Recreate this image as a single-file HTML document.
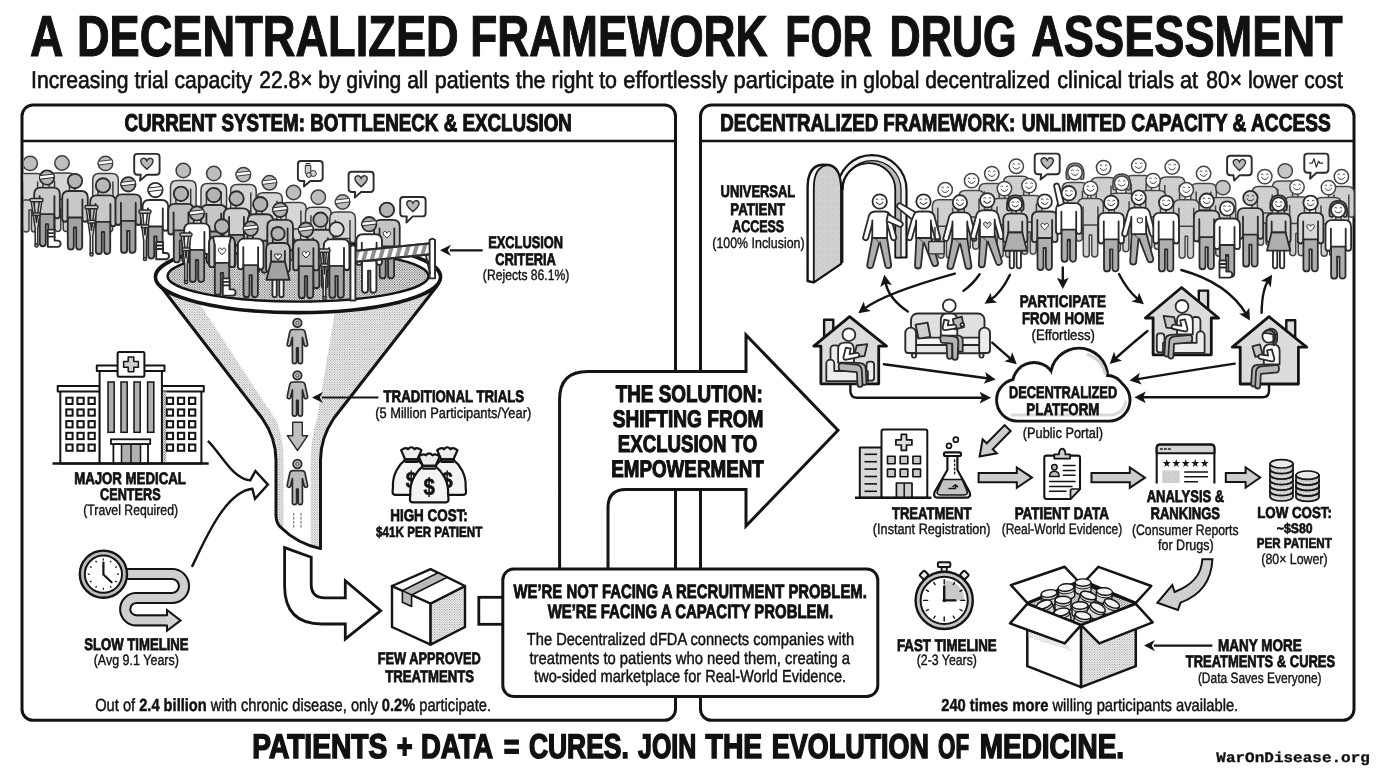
<!DOCTYPE html>
<html lang="en"><head><meta charset="utf-8"><title>A Decentralized Framework for Drug Assessment</title>
<style>
html,body{margin:0;padding:0;background:#fff;}
body{width:1376px;height:768px;overflow:hidden;font-family:"Liberation Sans",sans-serif;}
svg{display:block;will-change:transform;}
text{font-family:"Liberation Sans",sans-serif;text-rendering:geometricPrecision;}
.b{font-weight:700}
.r{font-weight:400}
.m{font-family:"Liberation Mono",monospace;font-weight:700}
</style></head><body>
<svg width="1376" height="768" viewBox="0 0 1376 768">
<defs>
<pattern id="dots" width="2.5" height="2.5" patternUnits="userSpaceOnUse"><rect width="2.5" height="2.5" fill="#fbfbfb"/><circle cx="0.7" cy="0.7" r="0.6" fill="#4a4a4a"/><circle cx="1.95" cy="1.95" r="0.6" fill="#4a4a4a"/></pattern>
<pattern id="dots2" width="2.5" height="2.5" patternUnits="userSpaceOnUse"><rect width="2.5" height="2.5" fill="#fff"/><circle cx="0.7" cy="0.7" r="0.56" fill="#6a6a6a"/><circle cx="1.95" cy="1.95" r="0.56" fill="#6a6a6a"/></pattern>
<pattern id="dotsl" width="2.6" height="2.6" patternUnits="userSpaceOnUse"><rect width="2.6" height="2.6" fill="#fff"/><circle cx="0.7" cy="0.7" r="0.5" fill="#777"/><circle cx="2" cy="2" r="0.5" fill="#777"/></pattern>
<pattern id="stip" width="2.4" height="2.4" patternUnits="userSpaceOnUse"><rect width="2.4" height="2.4" fill="#dcdcdc"/><circle cx="0.6" cy="0.6" r="0.45" fill="#9a9a9a"/><circle cx="1.8" cy="1.8" r="0.45" fill="#9a9a9a"/></pattern>
</defs>
<rect width="1376" height="768" fill="#fff"/>
<g fill="none" stroke="#141414" stroke-width="3">
<rect x="22" y="105" width="653.5" height="615.3" rx="11"/>
<line x1="22" y1="141" x2="675.5" y2="141" stroke-width="2.6"/>
<rect x="700.5" y="105" width="653.5" height="615.3" rx="11"/>
<line x1="700.5" y1="141" x2="1354" y2="141" stroke-width="2.6"/>
</g>
<clipPath id="coneclip"><path d="M160.5,286 L262,418 Q276,438 276,460 V515 Q276,523.5 281,527.5 Q297,543.5 320.5,548.6 V460 Q320.5,438 334,418 L437,286 Q300,330 160.5,286 Z"/></clipPath>
<path d="M160.5,286 L262,418 Q276,438 276,460 V515 Q276,523.5 281,527.5 Q297,543.5 320.5,548.6 V460 Q320.5,438 334,418 L437,286 Q300,330 160.5,286 Z" fill="#fff"/>
<g clip-path="url(#coneclip)"><path d="M150,280 L262,418 Q276,438 276,460 V535 H283.6 V460 Q283.6,440 277,422 L192,292 Z" fill="url(#dots2)"/><path d="M445,280 L334,418 Q320.5,438 320.5,460 V552 H310.5 V462 Q310.5,440 317,418 L337,300 Z" fill="url(#dots2)"/></g>
<path d="M160.5,286 L262,418 Q276,438 276,460 V515 Q276,523.5 281,527.5 Q297,543.5 320.5,548.6 V460 Q320.5,438 334,418 L437,286 Q300,330 160.5,286 Z" fill="none" stroke="#141414" stroke-width="3" stroke-linejoin="round"/>
<ellipse cx="298" cy="277" rx="142.6" ry="35.6" fill="#fff" stroke="#141414" stroke-width="3.6"/>
<ellipse cx="298" cy="276" rx="130.5" ry="25.6" fill="url(#dots)" stroke="#141414" stroke-width="2.4"/>
<clipPath id="lpclip"><rect x="23.5" y="142.3" width="650" height="575"/></clipPath><g clip-path="url(#lpclip)">
<g transform="translate(30.2,163.4) scale(1)" stroke="#3c3c3c" stroke-width="1.5" stroke-linejoin="round" stroke-linecap="round"><path d="M-7.2,34 H7.2 V65.6 a3,3 0 0 1 -6,0 V46.5 h-2.4 V65.6 a3,3 0 0 1 -6,0 Z" fill="#cfcfcf"/><path d="M-12.8,38 V16.6 Q-12.8,10 -6.2,10 H6.2 Q12.8,10 12.8,16.6 V38 a2.7,2.7 0 0 1 -5.4,0 V36.5 H-7.4 V38 a2.7,2.7 0 0 1 -5.4,0 Z" fill="#d6d6d6"/><path d="M-7.4,18.5 V36.5 M7.4,18.5 V36.5" fill="none"/><circle cx="0" cy="0" r="7.2" fill="#bebebe"/></g>
<g transform="translate(62,163) scale(1)" stroke="#3c3c3c" stroke-width="1.5" stroke-linejoin="round" stroke-linecap="round"><path d="M-7.2,34 H7.2 V65.6 a3,3 0 0 1 -6,0 V46.5 h-2.4 V65.6 a3,3 0 0 1 -6,0 Z" fill="#cfcfcf"/><path d="M-12.8,38 V16.6 Q-12.8,10 -6.2,10 H6.2 Q12.8,10 12.8,16.6 V38 a2.7,2.7 0 0 1 -5.4,0 V36.5 H-7.4 V38 a2.7,2.7 0 0 1 -5.4,0 Z" fill="#d6d6d6"/><path d="M-7.4,18.5 V36.5 M7.4,18.5 V36.5" fill="none"/><circle cx="0" cy="0" r="7.2" fill="#bebebe"/></g>
<g transform="translate(105.5,163.4) scale(1)" stroke="#3c3c3c" stroke-width="1.5" stroke-linejoin="round" stroke-linecap="round"><path d="M-7.2,34 H7.2 V65.6 a3,3 0 0 1 -6,0 V46.5 h-2.4 V65.6 a3,3 0 0 1 -6,0 Z" fill="#cfcfcf"/><path d="M-12.8,38 V16.6 Q-12.8,10 -6.2,10 H6.2 Q12.8,10 12.8,16.6 V38 a2.7,2.7 0 0 1 -5.4,0 V36.5 H-7.4 V38 a2.7,2.7 0 0 1 -5.4,0 Z" fill="#d6d6d6"/><path d="M-7.4,18.5 V36.5 M7.4,18.5 V36.5" fill="none"/><circle cx="0" cy="0" r="7.2" fill="#bebebe"/><path d="M-6.9,-2.0 L6.6,-3.6 L7.2,-0.2 L-7.1,1.6 Z" fill="#fff" stroke-width="1"/></g>
<g transform="translate(183.3,170.5) scale(1)" stroke="#3c3c3c" stroke-width="1.5" stroke-linejoin="round" stroke-linecap="round"><path d="M-7.2,34 H7.2 V65.6 a3,3 0 0 1 -6,0 V46.5 h-2.4 V65.6 a3,3 0 0 1 -6,0 Z" fill="#cfcfcf"/><path d="M-12.8,38 V16.6 Q-12.8,10 -6.2,10 H6.2 Q12.8,10 12.8,16.6 V38 a2.7,2.7 0 0 1 -5.4,0 V36.5 H-7.4 V38 a2.7,2.7 0 0 1 -5.4,0 Z" fill="#d6d6d6"/><path d="M-7.4,18.5 V36.5 M7.4,18.5 V36.5" fill="none"/><circle cx="0" cy="0" r="7.2" fill="#bebebe"/></g>
<g transform="translate(213.8,173.5) scale(1)" stroke="#3c3c3c" stroke-width="1.5" stroke-linejoin="round" stroke-linecap="round"><path d="M-7.2,34 H7.2 V65.6 a3,3 0 0 1 -6,0 V46.5 h-2.4 V65.6 a3,3 0 0 1 -6,0 Z" fill="#cfcfcf"/><path d="M-12.8,38 V16.6 Q-12.8,10 -6.2,10 H6.2 Q12.8,10 12.8,16.6 V38 a2.7,2.7 0 0 1 -5.4,0 V36.5 H-7.4 V38 a2.7,2.7 0 0 1 -5.4,0 Z" fill="#d6d6d6"/><path d="M-7.4,18.5 V36.5 M7.4,18.5 V36.5" fill="none"/><circle cx="0" cy="0" r="7.2" fill="#bebebe"/></g>
<g transform="translate(243.4,174.6) scale(1)" stroke="#3c3c3c" stroke-width="1.5" stroke-linejoin="round" stroke-linecap="round"><path d="M-7.2,34 H7.2 V65.6 a3,3 0 0 1 -6,0 V46.5 h-2.4 V65.6 a3,3 0 0 1 -6,0 Z" fill="#cfcfcf"/><path d="M-12.8,38 V16.6 Q-12.8,10 -6.2,10 H6.2 Q12.8,10 12.8,16.6 V38 a2.7,2.7 0 0 1 -5.4,0 V36.5 H-7.4 V38 a2.7,2.7 0 0 1 -5.4,0 Z" fill="#d6d6d6"/><path d="M-7.4,18.5 V36.5 M7.4,18.5 V36.5" fill="none"/><circle cx="0" cy="0" r="7.2" fill="#bebebe"/><path d="M-6.9,-2.0 L6.6,-3.6 L7.2,-0.2 L-7.1,1.6 Z" fill="#fff" stroke-width="1"/></g>
<g transform="translate(269.5,182.8) scale(1)" stroke="#3c3c3c" stroke-width="1.5" stroke-linejoin="round" stroke-linecap="round"><path d="M-7.2,34 H7.2 V65.6 a3,3 0 0 1 -6,0 V46.5 h-2.4 V65.6 a3,3 0 0 1 -6,0 Z" fill="#cfcfcf"/><path d="M-12.8,38 V16.6 Q-12.8,10 -6.2,10 H6.2 Q12.8,10 12.8,16.6 V38 a2.7,2.7 0 0 1 -5.4,0 V36.5 H-7.4 V38 a2.7,2.7 0 0 1 -5.4,0 Z" fill="#d6d6d6"/><path d="M-7.4,18.5 V36.5 M7.4,18.5 V36.5" fill="none"/><circle cx="0" cy="0" r="7.2" fill="#bebebe"/><path d="M-6.9,-2.0 L6.6,-3.6 L7.2,-0.2 L-7.1,1.6 Z" fill="#fff" stroke-width="1"/></g>
<g transform="translate(293.5,192.5) scale(1)" stroke="#3c3c3c" stroke-width="1.5" stroke-linejoin="round" stroke-linecap="round"><path d="M-7.2,34 H7.2 V65.6 a3,3 0 0 1 -6,0 V46.5 h-2.4 V65.6 a3,3 0 0 1 -6,0 Z" fill="#cfcfcf"/><path d="M-12.8,38 V16.6 Q-12.8,10 -6.2,10 H6.2 Q12.8,10 12.8,16.6 V38 a2.7,2.7 0 0 1 -5.4,0 V36.5 H-7.4 V38 a2.7,2.7 0 0 1 -5.4,0 Z" fill="#d6d6d6"/><path d="M-7.4,18.5 V36.5 M7.4,18.5 V36.5" fill="none"/><circle cx="0" cy="0" r="7.2" fill="#bebebe"/></g>
<g transform="translate(318.3,197.2) scale(1)" stroke="#3c3c3c" stroke-width="1.5" stroke-linejoin="round" stroke-linecap="round"><path d="M-7.2,34 H7.2 V65.6 a3,3 0 0 1 -6,0 V46.5 h-2.4 V65.6 a3,3 0 0 1 -6,0 Z" fill="#cfcfcf"/><path d="M-12.8,38 V16.6 Q-12.8,10 -6.2,10 H6.2 Q12.8,10 12.8,16.6 V38 a2.7,2.7 0 0 1 -5.4,0 V36.5 H-7.4 V38 a2.7,2.7 0 0 1 -5.4,0 Z" fill="#d6d6d6"/><path d="M-7.4,18.5 V36.5 M7.4,18.5 V36.5" fill="none"/><circle cx="0" cy="0" r="7.2" fill="#bebebe"/></g>
<g transform="translate(342.6,202) scale(1)" stroke="#3c3c3c" stroke-width="1.5" stroke-linejoin="round" stroke-linecap="round"><path d="M-7.2,34 H7.2 V65.6 a3,3 0 0 1 -6,0 V46.5 h-2.4 V65.6 a3,3 0 0 1 -6,0 Z" fill="#cfcfcf"/><path d="M-12.8,38 V16.6 Q-12.8,10 -6.2,10 H6.2 Q12.8,10 12.8,16.6 V38 a2.7,2.7 0 0 1 -5.4,0 V36.5 H-7.4 V38 a2.7,2.7 0 0 1 -5.4,0 Z" fill="#d6d6d6"/><path d="M-7.4,18.5 V36.5 M7.4,18.5 V36.5" fill="none"/><circle cx="0" cy="0" r="7.2" fill="#bebebe"/><path d="M-6.9,-2.0 L6.6,-3.6 L7.2,-0.2 L-7.1,1.6 Z" fill="#fff" stroke-width="1"/></g>
<g transform="translate(47,177.6) scale(1)" stroke="#2b2b2b" stroke-width="1.85" stroke-linejoin="round" stroke-linecap="round"><path d="M-7.2,34 H7.2 V65.6 a3,3 0 0 1 -6,0 V46.5 h-2.4 V65.6 a3,3 0 0 1 -6,0 Z" fill="#a3a3a3"/><path d="M0.8,52 h6.8 v11 h3.6 a3.2,3.2 0 0 1 0,6.2 h-10.4 z" fill="#fff"/><path d="M0.8,55.5 h6.8 M0.8,59 h6.8" fill="none"/><path d="M-12.8,38 V16.6 Q-12.8,10 -6.2,10 H6.2 Q12.8,10 12.8,16.6 V38 a2.7,2.7 0 0 1 -5.4,0 V36.5 H-7.4 V38 a2.7,2.7 0 0 1 -5.4,0 Z" fill="#c9c9c9"/><path d="M-7.4,18.5 V36.5 M7.4,18.5 V36.5" fill="none"/><circle cx="0" cy="0" r="7.2" fill="#b4b4b4"/><path d="M-6.9,-2.0 L6.6,-3.6 L7.2,-0.2 L-7.1,1.6 Z" fill="#fff" stroke-width="1"/></g>
<g transform="translate(75,181) scale(1)" stroke="#2b2b2b" stroke-width="1.85" stroke-linejoin="round" stroke-linecap="round"><path d="M-7.2,34 H7.2 V65.6 a3,3 0 0 1 -6,0 V46.5 h-2.4 V65.6 a3,3 0 0 1 -6,0 Z" fill="#a3a3a3"/><path d="M-12.8,38 V16.6 Q-12.8,10 -6.2,10 H6.2 Q12.8,10 12.8,16.6 V38 a2.7,2.7 0 0 1 -5.4,0 V36.5 H-7.4 V38 a2.7,2.7 0 0 1 -5.4,0 Z" fill="#c9c9c9"/><path d="M-7.4,18.5 V36.5 M7.4,18.5 V36.5" fill="none"/><circle cx="0" cy="0" r="7.2" fill="#b4b4b4"/></g>
<g transform="translate(103,185.4) scale(1)" stroke="#2b2b2b" stroke-width="1.85" stroke-linejoin="round" stroke-linecap="round"><path d="M-7.2,34 H7.2 V65.6 a3,3 0 0 1 -6,0 V46.5 h-2.4 V65.6 a3,3 0 0 1 -6,0 Z" fill="#a3a3a3"/><path d="M-12.8,38 V16.6 Q-12.8,10 -6.2,10 H6.2 Q12.8,10 12.8,16.6 V38 a2.7,2.7 0 0 1 -5.4,0 V36.5 H-7.4 V38 a2.7,2.7 0 0 1 -5.4,0 Z" fill="#c9c9c9"/><path d="M-7.4,18.5 V36.5 M7.4,18.5 V36.5" fill="none"/><circle cx="0" cy="0" r="7.2" fill="#b9b9b9"/></g>
<g transform="translate(128.3,184.3) scale(1)" stroke="#2b2b2b" stroke-width="1.85" stroke-linejoin="round" stroke-linecap="round"><path d="M-7.2,34 H7.2 V65.6 a3,3 0 0 1 -6,0 V46.5 h-2.4 V65.6 a3,3 0 0 1 -6,0 Z" fill="#a3a3a3"/><path d="M-12.8,38 V16.6 Q-12.8,10 -6.2,10 H6.2 Q12.8,10 12.8,16.6 V38 a2.7,2.7 0 0 1 -5.4,0 V36.5 H-7.4 V38 a2.7,2.7 0 0 1 -5.4,0 Z" fill="#b5b5b5"/><path d="M-7.4,18.5 V36.5 M7.4,18.5 V36.5" fill="none"/><circle cx="0" cy="0" r="7.2" fill="#b4b4b4"/><path d="M-6.9,-2.0 L6.6,-3.6 L7.2,-0.2 L-7.1,1.6 Z" fill="#fff" stroke-width="1"/></g>
<g transform="translate(155.4,190) scale(1)" stroke="#2b2b2b" stroke-width="1.85" stroke-linejoin="round" stroke-linecap="round"><path d="M-7.2,34 H7.2 V65.6 a3,3 0 0 1 -6,0 V46.5 h-2.4 V65.6 a3,3 0 0 1 -6,0 Z" fill="#a3a3a3"/><path d="M0.8,52 h6.8 v11 h3.6 a3.2,3.2 0 0 1 0,6.2 h-10.4 z" fill="#fff"/><path d="M0.8,55.5 h6.8 M0.8,59 h6.8" fill="none"/><path d="M-12.8,38 V16.6 Q-12.8,10 -6.2,10 H6.2 Q12.8,10 12.8,16.6 V38 a2.7,2.7 0 0 1 -5.4,0 V36.5 H-7.4 V38 a2.7,2.7 0 0 1 -5.4,0 Z" fill="#fff"/><path d="M-7.4,18.5 V36.5 M7.4,18.5 V36.5" fill="none"/><circle cx="0" cy="0" r="7.2" fill="#fff"/><path d="M-6.9,-2.0 L6.6,-3.6 L7.2,-0.2 L-7.1,1.6 Z" fill="#fff" stroke-width="1"/></g>
<g transform="translate(181,193.8) scale(1)" stroke="#2b2b2b" stroke-width="1.85" stroke-linejoin="round" stroke-linecap="round"><path d="M-7.2,34 H7.2 V65.6 a3,3 0 0 1 -6,0 V46.5 h-2.4 V65.6 a3,3 0 0 1 -6,0 Z" fill="#a3a3a3"/><path d="M-12.8,38 V16.6 Q-12.8,10 -6.2,10 H6.2 Q12.8,10 12.8,16.6 V38 a2.7,2.7 0 0 1 -5.4,0 V36.5 H-7.4 V38 a2.7,2.7 0 0 1 -5.4,0 Z" fill="#bdbdbd"/><path d="M-7.4,18.5 V36.5 M7.4,18.5 V36.5" fill="none"/><circle cx="0" cy="0" r="7.2" fill="#b4b4b4"/></g>
<g transform="translate(213.8,195) scale(1)" stroke="#2b2b2b" stroke-width="1.85" stroke-linejoin="round" stroke-linecap="round"><path d="M-7.2,34 H7.2 V65.6 a3,3 0 0 1 -6,0 V46.5 h-2.4 V65.6 a3,3 0 0 1 -6,0 Z" fill="#a3a3a3"/><path d="M-12.8,38 V16.6 Q-12.8,10 -6.2,10 H6.2 Q12.8,10 12.8,16.6 V38 a2.7,2.7 0 0 1 -5.4,0 V36.5 H-7.4 V38 a2.7,2.7 0 0 1 -5.4,0 Z" fill="#c6c6c6"/><path d="M-7.4,18.5 V36.5 M7.4,18.5 V36.5" fill="none"/><circle cx="0" cy="0" r="7.2" fill="#b4b4b4"/></g>
<g transform="translate(236.5,198.4) scale(1)" stroke="#2b2b2b" stroke-width="1.85" stroke-linejoin="round" stroke-linecap="round"><path d="M-7.2,34 H7.2 V65.6 a3,3 0 0 1 -6,0 V46.5 h-2.4 V65.6 a3,3 0 0 1 -6,0 Z" fill="#a3a3a3"/><path d="M-12.8,38 V16.6 Q-12.8,10 -6.2,10 H6.2 Q12.8,10 12.8,16.6 V38 a2.7,2.7 0 0 1 -5.4,0 V36.5 H-7.4 V38 a2.7,2.7 0 0 1 -5.4,0 Z" fill="#cfcfcf"/><path d="M-7.4,18.5 V36.5 M7.4,18.5 V36.5" fill="none"/><circle cx="0" cy="0" r="7.2" fill="#b4b4b4"/></g>
<g transform="translate(260.3,204.2) scale(1)" stroke="#2b2b2b" stroke-width="1.85" stroke-linejoin="round" stroke-linecap="round"><path d="M-7.2,34 H7.2 V65.6 a3,3 0 0 1 -6,0 V46.5 h-2.4 V65.6 a3,3 0 0 1 -6,0 Z" fill="#a3a3a3"/><path d="M-12.8,38 V16.6 Q-12.8,10 -6.2,10 H6.2 Q12.8,10 12.8,16.6 V38 a2.7,2.7 0 0 1 -5.4,0 V36.5 H-7.4 V38 a2.7,2.7 0 0 1 -5.4,0 Z" fill="#c9c9c9"/><path d="M-7.4,18.5 V36.5 M7.4,18.5 V36.5" fill="none"/><circle cx="0" cy="0" r="7.2" fill="#b4b4b4"/></g>
<g transform="translate(280.2,209.8) scale(1)" stroke="#2b2b2b" stroke-width="1.85" stroke-linejoin="round" stroke-linecap="round"><path d="M-7.2,34 H7.2 V65.6 a3,3 0 0 1 -6,0 V46.5 h-2.4 V65.6 a3,3 0 0 1 -6,0 Z" fill="#a3a3a3"/><path d="M-12.8,38 V16.6 Q-12.8,10 -6.2,10 H6.2 Q12.8,10 12.8,16.6 V38 a2.7,2.7 0 0 1 -5.4,0 V36.5 H-7.4 V38 a2.7,2.7 0 0 1 -5.4,0 Z" fill="#c2c2c2"/><path d="M-7.4,18.5 V36.5 M7.4,18.5 V36.5" fill="none"/><circle cx="0" cy="0" r="7.2" fill="#b4b4b4"/><path d="M-6.9,-2.0 L6.6,-3.6 L7.2,-0.2 L-7.1,1.6 Z" fill="#fff" stroke-width="1"/></g>
<g transform="translate(320.5,219.7) scale(1)" stroke="#2b2b2b" stroke-width="1.85" stroke-linejoin="round" stroke-linecap="round"><path d="M-7.2,34 H7.2 V65.6 a3,3 0 0 1 -6,0 V46.5 h-2.4 V65.6 a3,3 0 0 1 -6,0 Z" fill="#a3a3a3"/><path d="M-12.8,38 V16.6 Q-12.8,10 -6.2,10 H6.2 Q12.8,10 12.8,16.6 V38 a2.7,2.7 0 0 1 -5.4,0 V36.5 H-7.4 V38 a2.7,2.7 0 0 1 -5.4,0 Z" fill="#c9c9c9"/><path d="M-7.4,18.5 V36.5 M7.4,18.5 V36.5" fill="none"/><circle cx="0" cy="0" r="7.2" fill="#b4b4b4"/></g>
<g transform="translate(386.9,209.8) scale(1)" stroke="#2b2b2b" stroke-width="1.85" stroke-linejoin="round" stroke-linecap="round"><path d="M-7.2,34 H7.2 V65.6 a3,3 0 0 1 -6,0 V46.5 h-2.4 V65.6 a3,3 0 0 1 -6,0 Z" fill="#a3a3a3"/><path d="M-12.8,38 V16.6 Q-12.8,10 -6.2,10 H6.2 Q12.8,10 12.8,16.6 V38 a2.7,2.7 0 0 1 -5.4,0 V36.5 H-7.4 V38 a2.7,2.7 0 0 1 -5.4,0 Z" fill="#c4c4c4"/><path d="M-7.4,18.5 V36.5 M7.4,18.5 V36.5" fill="none"/><path d="M0,23.2 c-1.2,-2.6 -4.4,-1.6 -3.6,1 c0.5,1.6 2.4,2.8 3.6,4 c1.2,-1.2 3.1,-2.4 3.6,-4 c0.8,-2.6 -2.4,-3.6 -3.6,-1z" fill="#fff" stroke-width="1"/><circle cx="0" cy="0" r="7.2" fill="#b4b4b4"/></g>
</g>
<g stroke="#2b2b2b" stroke-width="1.5" fill="#d9d9d9" stroke-linejoin="round"><path d="M31.2,201.5 L35.2,228.26 V244.5 h2.6 V228.26 L41.8,201.5 h-2.4 L36.5,222.5 L33.6,201.5 Z" fill="#e4e4e4"/><rect x="30" y="198.5" width="13" height="3.2" rx="1.4" fill="#cfcfcf"/><path d="M32.9,212.9 h7.2 v2.4 h-7.2z" fill="#fff"/><circle cx="36.5" cy="245.5" r="1.6" fill="#bbb"/></g>
<g stroke="#2b2b2b" stroke-width="1.5" fill="#d9d9d9" stroke-linejoin="round"><path d="M86.2,208.5 L90.2,236.5 V253.5 h2.6 V236.5 L96.8,208.5 h-2.4 L91.5,230.5 L88.6,208.5 Z" fill="#e4e4e4"/><rect x="85" y="205.5" width="13" height="3.2" rx="1.4" fill="#cfcfcf"/><path d="M87.9,220.5 h7.2 v2.4 h-7.2z" fill="#fff"/><circle cx="91.5" cy="254.5" r="1.6" fill="#bbb"/></g>
<g stroke="#2b2b2b" stroke-width="1.5" fill="#d9d9d9" stroke-linejoin="round"><path d="M140.2,213 L143.7,241 V258 h2.6 V241 L149.8,213 h-2.4 L145,235 L142.6,213 Z" fill="#e4e4e4"/><rect x="139" y="210" width="12" height="3.2" rx="1.4" fill="#cfcfcf"/><path d="M141.4,225 h7.2 v2.4 h-7.2z" fill="#fff"/><circle cx="145" cy="259" r="1.6" fill="#bbb"/></g>
<g transform="translate(197,213.4) scale(1)" stroke="#2b2b2b" stroke-width="1.85" stroke-linejoin="round" stroke-linecap="round"><path d="M-7.2,34 H7.2 V65.6 a3,3 0 0 1 -6,0 V46.5 h-2.4 V65.6 a3,3 0 0 1 -6,0 Z" fill="#a3a3a3"/><path d="M-12.8,38 V16.6 Q-12.8,10 -6.2,10 H6.2 Q12.8,10 12.8,16.6 V38 a2.7,2.7 0 0 1 -5.4,0 V36.5 H-7.4 V38 a2.7,2.7 0 0 1 -5.4,0 Z" fill="#fff"/><path d="M-7.4,18.5 V36.5 M7.4,18.5 V36.5" fill="none"/><circle cx="0" cy="0" r="7.2" fill="#b4b4b4"/><path d="M-6.9,-2.0 L6.6,-3.6 L7.2,-0.2 L-7.1,1.6 Z" fill="#fff" stroke-width="1"/></g>
<g transform="translate(222,226.4) scale(1)" stroke="#2b2b2b" stroke-width="1.85" stroke-linejoin="round" stroke-linecap="round"><path d="M-7.2,34 H7.2 V65.6 a3,3 0 0 1 -6,0 V46.5 h-2.4 V65.6 a3,3 0 0 1 -6,0 Z" fill="#a3a3a3"/><path d="M0.8,52 h6.8 v11 h3.6 a3.2,3.2 0 0 1 0,6.2 h-10.4 z" fill="#fff"/><path d="M0.8,55.5 h6.8 M0.8,59 h6.8" fill="none"/><path d="M-12.8,38 V16.6 Q-12.8,10 -6.2,10 H6.2 Q12.8,10 12.8,16.6 V38 a2.7,2.7 0 0 1 -5.4,0 V36.5 H-7.4 V38 a2.7,2.7 0 0 1 -5.4,0 Z" fill="#fff"/><path d="M-12.8,38 V16.6 Q-12.8,11.5 -9,10.4 L-7.4,18 V38 a2.7,2.7 0 0 1 -5.4,0 Z M12.8,38 V16.6 Q12.8,11.5 9,10.4 L7.4,18 V38 a2.7,2.7 0 0 0 5.4,0 Z" fill="#c9c9c9"/><path d="M-7.4,18.5 V36.5 M7.4,18.5 V36.5" fill="none"/><path d="M0,23.2 c-1.2,-2.6 -4.4,-1.6 -3.6,1 c0.5,1.6 2.4,2.8 3.6,4 c1.2,-1.2 3.1,-2.4 3.6,-4 c0.8,-2.6 -2.4,-3.6 -3.6,-1z" fill="#fff" stroke-width="1"/><circle cx="0" cy="0" r="7.2" fill="#b4b4b4"/></g>
<g transform="translate(250.7,228.6) scale(1)" stroke="#2b2b2b" stroke-width="1.85" stroke-linejoin="round" stroke-linecap="round"><path d="M-7.2,34 H7.2 V65.6 a3,3 0 0 1 -6,0 V46.5 h-2.4 V65.6 a3,3 0 0 1 -6,0 Z" fill="#a3a3a3"/><path d="M-12.8,38 V16.6 Q-12.8,10 -6.2,10 H6.2 Q12.8,10 12.8,16.6 V38 a2.7,2.7 0 0 1 -5.4,0 V36.5 H-7.4 V38 a2.7,2.7 0 0 1 -5.4,0 Z" fill="#fff"/><path d="M-7.4,18.5 V36.5 M7.4,18.5 V36.5" fill="none"/><circle cx="0" cy="0" r="7.2" fill="#b4b4b4"/><path d="M-6.9,-2.0 L6.6,-3.6 L7.2,-0.2 L-7.1,1.6 Z" fill="#fff" stroke-width="1"/></g>
<g transform="translate(278,233.7) scale(0.93)" stroke="#2b2b2b" stroke-width="1.99" stroke-linejoin="round" stroke-linecap="round"><path d="M-6,48 V66 a2.3,2.3 0 0 0 4.6,0 V48 M1.4,48 V66 a2.3,2.3 0 0 0 4.6,0 V48" fill="#fff"/><path d="M-12.8,38 V16.6 Q-12.8,10 -6.2,10 H6.2 Q12.8,10 12.8,16.6 V38 a2.7,2.7 0 0 1 -5.4,0 V36.5 H-7.4 V38 a2.7,2.7 0 0 1 -5.4,0 Z" fill="#c4c4c4"/><path d="M-7.4,18.5 V36.5 M7.4,18.5 V36.5" fill="none"/><path d="M-7.4,30 L-12.4,49.5 H12.4 L7.4,30 Z" fill="#a3a3a3"/><path d="M-7.4,30 H7.4" fill="none"/><path d="M0,23.2 c-1.2,-2.6 -4.4,-1.6 -3.6,1 c0.5,1.6 2.4,2.8 3.6,4 c1.2,-1.2 3.1,-2.4 3.6,-4 c0.8,-2.6 -2.4,-3.6 -3.6,-1z" fill="#fff" stroke-width="1.08"/><circle cx="0" cy="0" r="7.2" fill="#b4b4b4"/></g>
<g transform="translate(306,229.7) scale(1)" stroke="#2b2b2b" stroke-width="1.85" stroke-linejoin="round" stroke-linecap="round"><path d="M-7.2,34 H7.2 V65.6 a3,3 0 0 1 -6,0 V46.5 h-2.4 V65.6 a3,3 0 0 1 -6,0 Z" fill="#a3a3a3"/><path d="M-12.8,38 V16.6 Q-12.8,10 -6.2,10 H6.2 Q12.8,10 12.8,16.6 V38 a2.7,2.7 0 0 1 -5.4,0 V36.5 H-7.4 V38 a2.7,2.7 0 0 1 -5.4,0 Z" fill="#bdbdbd"/><path d="M-7.4,18.5 V36.5 M7.4,18.5 V36.5" fill="none"/><path d="M0,23.2 c-1.2,-2.6 -4.4,-1.6 -3.6,1 c0.5,1.6 2.4,2.8 3.6,4 c1.2,-1.2 3.1,-2.4 3.6,-4 c0.8,-2.6 -2.4,-3.6 -3.6,-1z" fill="#fff" stroke-width="1"/><circle cx="0" cy="0" r="7.2" fill="#b4b4b4"/><path d="M-6.9,-2.0 L6.6,-3.6 L7.2,-0.2 L-7.1,1.6 Z" fill="#fff" stroke-width="1"/></g>
<g transform="translate(336.6,229.3) scale(1)" stroke="#2b2b2b" stroke-width="1.85" stroke-linejoin="round" stroke-linecap="round"><path d="M-7.2,34 H7.2 V65.6 a3,3 0 0 1 -6,0 V46.5 h-2.4 V65.6 a3,3 0 0 1 -6,0 Z" fill="#a3a3a3"/><path d="M-12.8,38 V16.6 Q-12.8,10 -6.2,10 H6.2 Q12.8,10 12.8,16.6 V38 a2.7,2.7 0 0 1 -5.4,0 V36.5 H-7.4 V38 a2.7,2.7 0 0 1 -5.4,0 Z" fill="#fff"/><path d="M-7.4,18.5 V36.5 M7.4,18.5 V36.5" fill="none"/><circle cx="0" cy="0" r="7.2" fill="#dcdcdc"/></g>
<g transform="translate(369.2,224.2) scale(1)" stroke="#2b2b2b" stroke-width="1.85" stroke-linejoin="round" stroke-linecap="round"><path d="M-7.2,34 H7.2 V65.6 a3,3 0 0 1 -6,0 V46.5 h-2.4 V65.6 a3,3 0 0 1 -6,0 Z" fill="#fff"/><path d="M-12.8,38 V16.6 Q-12.8,10 -6.2,10 H6.2 Q12.8,10 12.8,16.6 V38 a2.7,2.7 0 0 1 -5.4,0 V36.5 H-7.4 V38 a2.7,2.7 0 0 1 -5.4,0 Z" fill="#fff"/><path d="M-7.4,18.5 V36.5 M7.4,18.5 V36.5" fill="none"/><circle cx="0" cy="0" r="7.2" fill="#b4b4b4"/><path d="M-6.9,-2.0 L6.6,-3.6 L7.2,-0.2 L-7.1,1.6 Z" fill="#fff" stroke-width="1"/></g>
<g stroke="#2b2b2b" stroke-width="1.5" fill="#d9d9d9" stroke-linejoin="round"><path d="M181.2,236 L184.7,264 V281 h2.6 V264 L190.8,236 h-2.4 L186,258 L183.6,236 Z" fill="#e4e4e4"/><rect x="180" y="233" width="12" height="3.2" rx="1.4" fill="#cfcfcf"/><path d="M182.4,248 h7.2 v2.4 h-7.2z" fill="#fff"/><circle cx="186" cy="282" r="1.6" fill="#bbb"/></g>
<g stroke="#2b2b2b" stroke-width="1.5" fill="#d9d9d9" stroke-linejoin="round"><path d="M320.2,252 L323.2,280 V297 h2.6 V280 L328.8,252 h-2.4 L324.5,274 L322.6,252 Z" fill="#e4e4e4"/><rect x="319" y="249" width="11" height="3.2" rx="1.4" fill="#cfcfcf"/><path d="M320.9,264 h7.2 v2.4 h-7.2z" fill="#fff"/><circle cx="324.5" cy="298" r="1.6" fill="#bbb"/></g>
<g stroke="#2b2b2b" stroke-width="1.9" stroke-linejoin="round"><clipPath id="barclip"><path d="M354,251 L431,243.2 V254.2 L354,262 Z"/></clipPath><path d="M354,251 L431,243.2 V254.2 L354,262 Z" fill="#fff"/><g clip-path="url(#barclip)" stroke="none" fill="#8f8f8f"><path d="M352,264 l7,-24 h4.1 l-7,24z"/><path d="M360.2,264 l7,-24 h4.1 l-7,24z"/><path d="M368.4,264 l7,-24 h4.1 l-7,24z"/><path d="M376.6,264 l7,-24 h4.1 l-7,24z"/><path d="M384.8,264 l7,-24 h4.1 l-7,24z"/><path d="M393,264 l7,-24 h4.1 l-7,24z"/><path d="M401.2,264 l7,-24 h4.1 l-7,24z"/><path d="M409.4,264 l7,-24 h4.1 l-7,24z"/><path d="M417.6,264 l7,-24 h4.1 l-7,24z"/><path d="M425.8,264 l7,-24 h4.1 l-7,24z"/><path d="M434,264 l7,-24 h4.1 l-7,24z"/></g><path d="M354,251 L431,243.2 V254.2 L354,262 Z" fill="none"/><path d="M350.4,246.5 q2.5,-2.4 5,0 V300.5 h-5 Z" fill="#fff"/><path d="M429.6,240 q2.7,-2.6 5.4,0 V278.4 h-5.4 Z" fill="#fff"/><path d="M426,256 l4.2,18" fill="none"/></g>
<path d="M137.4,153.9 H156.4 Q159.6,153.9 159.6,157.1 V171.5 Q159.6,174.7 156.4,174.7 H146.79 L140,180.6 L140.79,174.7 H137.4 Q134.2,174.7 134.2,171.5 V157.1 Q134.2,153.9 137.4,153.9 Z" fill="#fff" stroke="#2b2b2b" stroke-width="1.9" stroke-linejoin="round"/>
<path transform="translate(146.9,164) scale(1.55)" d="M0,-2.2 c-1.2,-2.6 -4.6,-1.6 -3.8,1.2 c0.6,1.9 2.6,3.2 3.8,4.4 c1.2,-1.2 3.2,-2.5 3.8,-4.4 c0.8,-2.8 -2.6,-3.8 -3.8,-1.2z" fill="#b9b9b9" stroke="#2b2b2b" stroke-width="0.9"/>
<path d="M301.1,161 H319.5 Q322.7,161 322.7,164.2 V177.8 Q322.7,181 319.5,181 H310.36 L303.9,186.5 L304.36,181 H301.1 Q297.9,181 297.9,177.8 V164.2 Q297.9,161 301.1,161 Z" fill="#fff" stroke="#2b2b2b" stroke-width="1.9" stroke-linejoin="round"/>
<g stroke="#2b2b2b" stroke-width="1" fill="#cfcfcf"><rect x="305.3" y="165" width="5.5" height="9" rx="1"/><rect x="306.3" y="163.5" width="3.5" height="2"/><circle cx="313.3" cy="173.5" r="3"/><circle cx="308.8" cy="175" r="2.4"/></g>
<path d="M351.8,171.7 H370.4 Q373.6,171.7 373.6,174.9 V188.8 Q373.6,192 370.4,192 H361.1 L354.8,197.6 L355.1,192 H351.8 Q348.6,192 348.6,188.8 V174.9 Q348.6,171.7 351.8,171.7 Z" fill="#fff" stroke="#2b2b2b" stroke-width="1.9" stroke-linejoin="round"/>
<path transform="translate(361.1,181.55) scale(1.55)" d="M0,-2.2 c-1.2,-2.6 -4.6,-1.6 -3.8,1.2 c0.6,1.9 2.6,3.2 3.8,4.4 c1.2,-1.2 3.2,-2.5 3.8,-4.4 c0.8,-2.8 -2.6,-3.8 -3.8,-1.2z" fill="#b9b9b9" stroke="#2b2b2b" stroke-width="0.9"/>
<path d="M403.4,197 H422.4 Q425.6,197 425.6,200.2 V213.2 Q425.6,216.4 422.4,216.4 H412.79 L406.4,222.6 L406.79,216.4 H403.4 Q400.2,216.4 400.2,213.2 V200.2 Q400.2,197 403.4,197 Z" fill="#fff" stroke="#2b2b2b" stroke-width="1.9" stroke-linejoin="round"/>
<path transform="translate(412.9,206.4) scale(1.55)" d="M0,-2.2 c-1.2,-2.6 -4.6,-1.6 -3.8,1.2 c0.6,1.9 2.6,3.2 3.8,4.4 c1.2,-1.2 3.2,-2.5 3.8,-4.4 c0.8,-2.8 -2.6,-3.8 -3.8,-1.2z" fill="#b9b9b9" stroke="#2b2b2b" stroke-width="0.9"/>
<path d="M482.6,250.3 L449.8,250.3" stroke="#141414" stroke-width="2.2" fill="none"/>
<path d="M440,250.3 L451,244.7 L447.8,250.3 L451,255.9 Z" fill="#141414"/>
<path d="M378.4,397.5 L321.8,397.5" stroke="#141414" stroke-width="2.2" fill="none"/>
<path d="M312,397.5 L323,391.9 L319.8,397.5 L323,403.1 Z" fill="#141414"/>
<g transform="translate(297.4,322.9)" stroke="#2b2b2b" stroke-width="1.7" stroke-linejoin="round" fill="#bcbcbc"><path d="M-4.6,6.6 Q-7,6.6 -7.6,9 L-10.2,21.3 a1.7,1.7 0 0 0 3.3,0.8 L-5,14.5 V38.6 a2.1,2.1 0 0 0 4.2,0 V25 h1.6 V38.6 a2.1,2.1 0 0 0 4.2,0 V14.5 L6.9,22.1 a1.7,1.7 0 0 0 3.3,-0.8 L7.6,9 Q7,6.6 4.6,6.6 Z"/><circle cx="0" cy="0" r="4.3"/><circle cx="0" cy="0" r="1.6" fill="#d0d0d0" stroke-width="0.8"/></g>
<g transform="translate(297.4,375.4)" stroke="#2b2b2b" stroke-width="1.7" stroke-linejoin="round" fill="#bcbcbc"><path d="M-4.6,6.6 Q-7,6.6 -7.6,9 L-10.2,21.3 a1.7,1.7 0 0 0 3.3,0.8 L-5,14.5 V38.6 a2.1,2.1 0 0 0 4.2,0 V25 h1.6 V38.6 a2.1,2.1 0 0 0 4.2,0 V14.5 L6.9,22.1 a1.7,1.7 0 0 0 3.3,-0.8 L7.6,9 Q7,6.6 4.6,6.6 Z"/><circle cx="0" cy="0" r="4.3"/><circle cx="0" cy="0" r="1.6" fill="#d0d0d0" stroke-width="0.8"/></g>
<path d="M292.7,422.2 h9.6 v13.5 h5.4 L297.5,450.5 L287.3,435.7 h5.4z" fill="#c0c0c0" stroke="#2b2b2b" stroke-width="1.4" stroke-linejoin="round"/>
<g transform="translate(297.4,464)" stroke="#2b2b2b" stroke-width="1.7" stroke-linejoin="round" fill="#bcbcbc"><path d="M-4.6,6.6 Q-7,6.6 -7.6,9 L-10.2,21.3 a1.7,1.7 0 0 0 3.3,0.8 L-5,14.5 V38.6 a2.1,2.1 0 0 0 4.2,0 V25 h1.6 V38.6 a2.1,2.1 0 0 0 4.2,0 V14.5 L6.9,22.1 a1.7,1.7 0 0 0 3.3,-0.8 L7.6,9 Q7,6.6 4.6,6.6 Z"/><circle cx="0" cy="0" r="4.3"/><circle cx="0" cy="0" r="1.6" fill="#d0d0d0" stroke-width="0.8"/></g>
<path d="M293.8,513 V528 M301,513 V528" stroke="#555" stroke-width="1" stroke-dasharray="2.5,1.5" fill="none"/>
<g stroke="#141414" stroke-width="2" fill="#fff" stroke-linejoin="round">
<rect x="60.3" y="391" width="39.5" height="72.5"/>
<rect x="57.7" y="386" width="42" height="5.5"/>
<rect x="161.8" y="391" width="39.6" height="72.5"/>
<rect x="161.8" y="386" width="42" height="5.5"/>
<rect x="161.8" y="391.5" width="4.6" height="72" fill="url(#dots)" stroke="none"/>
<rect x="99.6" y="371" width="62.3" height="92.5"/>
<rect x="96.8" y="365.5" width="67.7" height="5.6"/>
<rect x="117.6" y="352" width="26.8" height="24.8" rx="1.5"/>
</g>
<path d="M128.2,357 h5.6 v4.6 h4.6 v5.6 h-4.6 v4.6 h-5.6 v-4.6 h-4.6 v-5.6 h4.6z" fill="#cfcfcf" stroke="#141414" stroke-width="1.5" stroke-linejoin="round"/>
<rect x="108" y="382" width="6.2" height="50.3" fill="#b0b0b0" stroke="#141414" stroke-width="1.5"/>
<rect x="121" y="382" width="6.2" height="50.3" fill="#b0b0b0" stroke="#141414" stroke-width="1.5"/>
<rect x="134" y="382" width="6.2" height="50.3" fill="#b0b0b0" stroke="#141414" stroke-width="1.5"/>
<rect x="147.6" y="382" width="6.2" height="50.3" fill="#b0b0b0" stroke="#141414" stroke-width="1.5"/>
<rect x="113.4" y="444" width="34.6" height="19.5" fill="#fff" stroke="#141414" stroke-width="1.8"/>
<rect x="121.5" y="444" width="19" height="19.5" fill="#b0b0b0" stroke="#141414" stroke-width="1.5"/>
<path d="M131,444 V463.5" stroke="#141414" stroke-width="1.5"/>
<rect x="111" y="439.3" width="39.2" height="4.7" fill="#fff" stroke="#141414" stroke-width="1.8"/>
<rect x="66.3" y="397.7" width="6.3" height="6.3" fill="#fff" stroke="#141414" stroke-width="2"/>
<rect x="77.4" y="397.7" width="6.3" height="6.3" fill="#fff" stroke="#141414" stroke-width="2"/>
<rect x="88.5" y="397.7" width="6.3" height="6.3" fill="#fff" stroke="#141414" stroke-width="2"/>
<rect x="66.3" y="409.4" width="6.3" height="6.3" fill="#fff" stroke="#141414" stroke-width="2"/>
<rect x="77.4" y="409.4" width="6.3" height="6.3" fill="#fff" stroke="#141414" stroke-width="2"/>
<rect x="88.5" y="409.4" width="6.3" height="6.3" fill="#fff" stroke="#141414" stroke-width="2"/>
<rect x="66.3" y="421.1" width="6.3" height="6.3" fill="#fff" stroke="#141414" stroke-width="2"/>
<rect x="77.4" y="421.1" width="6.3" height="6.3" fill="#fff" stroke="#141414" stroke-width="2"/>
<rect x="88.5" y="421.1" width="6.3" height="6.3" fill="#fff" stroke="#141414" stroke-width="2"/>
<rect x="66.3" y="432.8" width="6.3" height="6.3" fill="#fff" stroke="#141414" stroke-width="2"/>
<rect x="77.4" y="432.8" width="6.3" height="6.3" fill="#fff" stroke="#141414" stroke-width="2"/>
<rect x="88.5" y="432.8" width="6.3" height="6.3" fill="#fff" stroke="#141414" stroke-width="2"/>
<rect x="66.3" y="444.5" width="6.3" height="6.3" fill="#fff" stroke="#141414" stroke-width="2"/>
<rect x="77.4" y="444.5" width="6.3" height="6.3" fill="#fff" stroke="#141414" stroke-width="2"/>
<rect x="88.5" y="444.5" width="6.3" height="6.3" fill="#fff" stroke="#141414" stroke-width="2"/>
<rect x="166.8" y="397.7" width="6.3" height="6.3" fill="#fff" stroke="#141414" stroke-width="2"/>
<rect x="177.9" y="397.7" width="6.3" height="6.3" fill="#fff" stroke="#141414" stroke-width="2"/>
<rect x="189" y="397.7" width="6.3" height="6.3" fill="#fff" stroke="#141414" stroke-width="2"/>
<rect x="166.8" y="409.4" width="6.3" height="6.3" fill="#fff" stroke="#141414" stroke-width="2"/>
<rect x="177.9" y="409.4" width="6.3" height="6.3" fill="#fff" stroke="#141414" stroke-width="2"/>
<rect x="189" y="409.4" width="6.3" height="6.3" fill="#fff" stroke="#141414" stroke-width="2"/>
<rect x="166.8" y="421.1" width="6.3" height="6.3" fill="#fff" stroke="#141414" stroke-width="2"/>
<rect x="177.9" y="421.1" width="6.3" height="6.3" fill="#fff" stroke="#141414" stroke-width="2"/>
<rect x="189" y="421.1" width="6.3" height="6.3" fill="#fff" stroke="#141414" stroke-width="2"/>
<rect x="166.8" y="432.8" width="6.3" height="6.3" fill="#fff" stroke="#141414" stroke-width="2"/>
<rect x="177.9" y="432.8" width="6.3" height="6.3" fill="#fff" stroke="#141414" stroke-width="2"/>
<rect x="189" y="432.8" width="6.3" height="6.3" fill="#fff" stroke="#141414" stroke-width="2"/>
<rect x="166.8" y="444.5" width="6.3" height="6.3" fill="#fff" stroke="#141414" stroke-width="2"/>
<rect x="177.9" y="444.5" width="6.3" height="6.3" fill="#fff" stroke="#141414" stroke-width="2"/>
<rect x="189" y="444.5" width="6.3" height="6.3" fill="#fff" stroke="#141414" stroke-width="2"/>
<path d="M52.5,463.5 H208.7" stroke="#141414" stroke-width="2.4"/>
<path d="M207.9,440.8 C222,455 232,478 250.2,480.4 L255.4,471 L267.9,484.6 L255,498.8 L252.3,488.8 C225,492 205,540 191.9,566.9" fill="none" stroke="#141414" stroke-width="2.4" stroke-linejoin="miter"/>
<path d="M127,574 H172 a12,12 0 0 1 0,24 H136.4 a11.2,11.2 0 0 0 0,22.4 H168" fill="none" stroke="#141414" stroke-width="12.2" stroke-linecap="butt"/>
<path d="M127,574 H172 a12,12 0 0 1 0,24 H136.4 a11.2,11.2 0 0 0 0,22.4 H168" fill="none" stroke="url(#stip)" stroke-width="7.8" stroke-linecap="butt"/>
<path d="M127,574 H172 a12,12 0 0 1 0,24 H136.4 a11.2,11.2 0 0 0 0,22.4 H168" fill="none" stroke="#cfcfcf" stroke-width="7.8" stroke-linecap="butt" opacity="0.6"/>
<path d="M167,610 L180.6,620.4 L167,630.8 Z" fill="#d4d4d4" stroke="#141414" stroke-width="2" stroke-linejoin="miter"/>
<path d="M166,616.2 h3 v8.4 h-3z" fill="#d4d4d4"/>
<circle cx="103.4" cy="574.2" r="23.6" fill="#bdbdbd" stroke="#141414" stroke-width="2.4"/>
<circle cx="103.4" cy="574.2" r="18.6" fill="#fff" stroke="#141414" stroke-width="2"/>
<path d="M103.4,558.6 L103.4,560.6" stroke="#141414" stroke-width="1.2"/>
<path d="M111.2,560.69 L110.2,562.42" stroke="#141414" stroke-width="1.2"/>
<path d="M116.91,566.4 L115.18,567.4" stroke="#141414" stroke-width="1.2"/>
<path d="M119,574.2 L117,574.2" stroke="#141414" stroke-width="1.2"/>
<path d="M116.91,582 L115.18,581" stroke="#141414" stroke-width="1.2"/>
<path d="M111.2,587.71 L110.2,585.98" stroke="#141414" stroke-width="1.2"/>
<path d="M103.4,589.8 L103.4,587.8" stroke="#141414" stroke-width="1.2"/>
<path d="M95.6,587.71 L96.6,585.98" stroke="#141414" stroke-width="1.2"/>
<path d="M89.89,582 L91.62,581" stroke="#141414" stroke-width="1.2"/>
<path d="M87.8,574.2 L89.8,574.2" stroke="#141414" stroke-width="1.2"/>
<path d="M89.89,566.4 L91.62,567.4" stroke="#141414" stroke-width="1.2"/>
<path d="M95.6,560.69 L96.6,562.42" stroke="#141414" stroke-width="1.2"/>
<path d="M103.4,562.5 V574.5 L111.6,582.2" fill="none" stroke="#141414" stroke-width="2.2" stroke-linecap="round" stroke-linejoin="round"/>
<g transform="translate(411.3,494.8) scale(0.97)" stroke="#141414" stroke-width="2.27" stroke-linejoin="round" stroke-linecap="round"><path d="M-5.8,-36.5 C-13,-31 -19.6,-21 -18.9,-8 L-19.3,-3 Q-19.5,0 -16,0 H16 Q19.5,0 19.3,-3 L18.9,-8 C19.6,-21 13,-31 5.8,-36.5 Z" fill="#f4f4f4"/><path d="M-6.4,-36.6 L-10.5,-46 Q-5.5,-49.5 -3.4,-47 Q0,-51 3.4,-47 Q5.5,-49.5 10.5,-46 L6.4,-36.6 Z" fill="#ececec"/><path d="M-7,-36.6 H7 M-6,-33.8 H6" fill="none"/></g>
<text class="b" x="411.3" y="487.53" font-size="23.28" text-anchor="middle" stroke="#141414" stroke-width="0.6" fill="#141414" transform="translate(411.3,0) scale(0.85,1) translate(-411.3,0)">$</text>
<g transform="translate(447.3,494.8) scale(0.97)" stroke="#141414" stroke-width="2.27" stroke-linejoin="round" stroke-linecap="round"><path d="M-5.8,-36.5 C-13,-31 -19.6,-21 -18.9,-8 L-19.3,-3 Q-19.5,0 -16,0 H16 Q19.5,0 19.3,-3 L18.9,-8 C19.6,-21 13,-31 5.8,-36.5 Z" fill="#f4f4f4"/><path d="M-6.4,-36.6 L-10.5,-46 Q-5.5,-49.5 -3.4,-47 Q0,-51 3.4,-47 Q5.5,-49.5 10.5,-46 L6.4,-36.6 Z" fill="#ececec"/><path d="M-7,-36.6 H7 M-6,-33.8 H6" fill="none"/></g>
<text class="b" x="447.3" y="487.53" font-size="23.28" text-anchor="middle" stroke="#141414" stroke-width="0.6" fill="#141414" transform="translate(447.3,0) scale(0.85,1) translate(-447.3,0)">$</text>
<g transform="translate(429.2,502.4) scale(1)" stroke="#141414" stroke-width="2.2" stroke-linejoin="round" stroke-linecap="round"><path d="M-5.8,-36.5 C-13,-31 -19.6,-21 -18.9,-8 L-19.3,-3 Q-19.5,0 -16,0 H16 Q19.5,0 19.3,-3 L18.9,-8 C19.6,-21 13,-31 5.8,-36.5 Z" fill="#f4f4f4"/><path d="M-6.4,-36.6 L-10.5,-46 Q-5.5,-49.5 -3.4,-47 Q0,-51 3.4,-47 Q5.5,-49.5 10.5,-46 L6.4,-36.6 Z" fill="#ececec"/><path d="M-7,-36.6 H7 M-6,-33.8 H6" fill="none"/></g>
<text class="b" x="429.2" y="494.9" font-size="24" text-anchor="middle" stroke="#141414" stroke-width="0.6" fill="#141414" transform="translate(429.2,0) scale(0.85,1) translate(-429.2,0)">$</text>
<path d="M284.6,547.6 L311.2,557.2 V584 Q311.2,597.9 325,597.9 H345.3 V580.8 L380.7,610.7 L345.3,639 V624 H322 Q284.6,624 284.6,586 Z" fill="#fff" stroke="#141414" stroke-width="2.8" stroke-linejoin="miter"/>
<g stroke="#141414" stroke-width="2.4" stroke-linejoin="round">
<path d="M392,586 L430.6,603.5 V644.6 L392,627 Z" fill="#fff"/>
<path d="M465,586 L430.6,603.5 V644.6 L465,627 Z" fill="url(#dots2)"/>
<path d="M392,586 L430.6,569.1 L465,586 L430.6,603.5 Z" fill="#fff"/>
</g>
<path d="M438,572.8 L447.3,577.3 L411.6,595 V606.5 L402.4,602.3 V590.7 Z" fill="#b9b9b9" stroke="#141414" stroke-width="1.6" stroke-linejoin="round"/>
<path d="M402.4,590.7 L411.6,595" stroke="#141414" stroke-width="1.4"/>
<path d="M837.5,262 V189.6 A34.5,34.5 0 0 1 906.5,189.6 V257.5 H895.5 V189.6 A26.6,26.6 0 0 0 842.3,189.6 V262 Z" fill="#f1f1f1" stroke="#141414" stroke-width="2.2" stroke-linejoin="round"/>
<path d="M843,189.6 A29,29 0 0 1 901,189.6 V257.5 H895.5 V189.6 A26.6,26.6 0 0 0 842.3,189.6 Z" fill="#b9b9b9" stroke="#141414" stroke-width="1.3" stroke-linejoin="round"/>
<path d="M807.6,281 V188 Q807.6,165.5 822.6,164.7 L829,164.9 Q841,167 841,190 V263.7 L813.8,282.3 Z" fill="#fff" stroke="#141414" stroke-width="2.4" stroke-linejoin="round"/>
<path d="M813.8,282.3 V188 Q813.8,166.5 828,165.2 Q841,167 841,190 V263.7 Z" fill="url(#stip)" stroke="#141414" stroke-width="1.8" stroke-linejoin="round"/>
<g transform="translate(1016.3,166.3) scale(1)" stroke="#444" stroke-width="1.5" stroke-linejoin="round" stroke-linecap="round"><path d="M-7.2,34 H7.2 V65.6 a3,3 0 0 1 -6,0 V46.5 h-2.4 V65.6 a3,3 0 0 1 -6,0 Z" fill="url(#stip)"/><path d="M-12.8,38 V16.6 Q-12.8,10 -6.2,10 H6.2 Q12.8,10 12.8,16.6 V38 a2.7,2.7 0 0 1 -5.4,0 V36.5 H-7.4 V38 a2.7,2.7 0 0 1 -5.4,0 Z" fill="url(#stip)"/><path d="M-7.4,18.5 V36.5 M7.4,18.5 V36.5" fill="none"/><circle cx="0" cy="0" r="7.2" fill="#fff"/><path d="M-3.4,0.8 Q0,5.2 3.4,0.8" fill="none" stroke-width="1"/><path d="M-3.6,-2.2 q1,-1.3 2,0 M1.6,-2.2 q1,-1.3 2,0" fill="none" stroke-width="0.9"/></g>
<g transform="translate(1103.6,167.6) scale(1)" stroke="#444" stroke-width="1.5" stroke-linejoin="round" stroke-linecap="round"><path d="M-7.2,34 H7.2 V65.6 a3,3 0 0 1 -6,0 V46.5 h-2.4 V65.6 a3,3 0 0 1 -6,0 Z" fill="url(#stip)"/><path d="M-12.8,38 V16.6 Q-12.8,10 -6.2,10 H6.2 Q12.8,10 12.8,16.6 V38 a2.7,2.7 0 0 1 -5.4,0 V36.5 H-7.4 V38 a2.7,2.7 0 0 1 -5.4,0 Z" fill="url(#stip)"/><path d="M-7.4,18.5 V36.5 M7.4,18.5 V36.5" fill="none"/><circle cx="0" cy="0" r="7.2" fill="#fff"/><path d="M-3.4,0.8 Q0,5.2 3.4,0.8" fill="none" stroke-width="1"/><path d="M-3.6,-2.2 q1,-1.3 2,0 M1.6,-2.2 q1,-1.3 2,0" fill="none" stroke-width="0.9"/></g>
<g transform="translate(1138.7,165.6) scale(1)" stroke="#444" stroke-width="1.5" stroke-linejoin="round" stroke-linecap="round"><path d="M-7.2,34 H7.2 V65.6 a3,3 0 0 1 -6,0 V46.5 h-2.4 V65.6 a3,3 0 0 1 -6,0 Z" fill="url(#stip)"/><path d="M-12.8,38 V16.6 Q-12.8,10 -6.2,10 H6.2 Q12.8,10 12.8,16.6 V38 a2.7,2.7 0 0 1 -5.4,0 V36.5 H-7.4 V38 a2.7,2.7 0 0 1 -5.4,0 Z" fill="url(#stip)"/><path d="M-7.4,18.5 V36.5 M7.4,18.5 V36.5" fill="none"/><circle cx="0" cy="0" r="7.2" fill="#fff"/><path d="M-3.4,0.8 Q0,5.2 3.4,0.8" fill="none" stroke-width="1"/><path d="M-3.6,-2.2 q1,-1.3 2,0 M1.6,-2.2 q1,-1.3 2,0" fill="none" stroke-width="0.9"/></g>
<g transform="translate(1172.2,167) scale(1)" stroke="#444" stroke-width="1.5" stroke-linejoin="round" stroke-linecap="round"><path d="M-7.2,34 H7.2 V65.6 a3,3 0 0 1 -6,0 V46.5 h-2.4 V65.6 a3,3 0 0 1 -6,0 Z" fill="url(#stip)"/><path d="M-12.8,38 V16.6 Q-12.8,10 -6.2,10 H6.2 Q12.8,10 12.8,16.6 V38 a2.7,2.7 0 0 1 -5.4,0 V36.5 H-7.4 V38 a2.7,2.7 0 0 1 -5.4,0 Z" fill="url(#stip)"/><path d="M-7.4,18.5 V36.5 M7.4,18.5 V36.5" fill="none"/><circle cx="0" cy="0" r="7.2" fill="#fff"/><path d="M-3.4,0.8 Q0,5.2 3.4,0.8" fill="none" stroke-width="1"/><path d="M-3.6,-2.2 q1,-1.3 2,0 M1.6,-2.2 q1,-1.3 2,0" fill="none" stroke-width="0.9"/></g>
<g transform="translate(1203.6,173.5) scale(1)" stroke="#444" stroke-width="1.5" stroke-linejoin="round" stroke-linecap="round"><path d="M-7.2,34 H7.2 V65.6 a3,3 0 0 1 -6,0 V46.5 h-2.4 V65.6 a3,3 0 0 1 -6,0 Z" fill="url(#stip)"/><path d="M-12.8,38 V16.6 Q-12.8,10 -6.2,10 H6.2 Q12.8,10 12.8,16.6 V38 a2.7,2.7 0 0 1 -5.4,0 V36.5 H-7.4 V38 a2.7,2.7 0 0 1 -5.4,0 Z" fill="url(#stip)"/><path d="M-7.4,18.5 V36.5 M7.4,18.5 V36.5" fill="none"/><circle cx="0" cy="0" r="7.2" fill="#fff"/><path d="M-3.4,0.8 Q0,5.2 3.4,0.8" fill="none" stroke-width="1"/><path d="M-3.6,-2.2 q1,-1.3 2,0 M1.6,-2.2 q1,-1.3 2,0" fill="none" stroke-width="0.9"/></g>
<g transform="translate(1285.2,170.9) scale(1)" stroke="#444" stroke-width="1.5" stroke-linejoin="round" stroke-linecap="round"><path d="M-7.2,34 H7.2 V65.6 a3,3 0 0 1 -6,0 V46.5 h-2.4 V65.6 a3,3 0 0 1 -6,0 Z" fill="url(#stip)"/><path d="M-12.8,38 V16.6 Q-12.8,10 -6.2,10 H6.2 Q12.8,10 12.8,16.6 V38 a2.7,2.7 0 0 1 -5.4,0 V36.5 H-7.4 V38 a2.7,2.7 0 0 1 -5.4,0 Z" fill="url(#stip)"/><path d="M-7.4,18.5 V36.5 M7.4,18.5 V36.5" fill="none"/><circle cx="0" cy="0" r="7.2" fill="#c6c6c6"/></g>
<g transform="translate(1341.4,176.6) scale(1)" stroke="#444" stroke-width="1.5" stroke-linejoin="round" stroke-linecap="round"><path d="M-7.2,34 H7.2 V65.6 a3,3 0 0 1 -6,0 V46.5 h-2.4 V65.6 a3,3 0 0 1 -6,0 Z" fill="url(#stip)"/><path d="M-12.8,38 V16.6 Q-12.8,10 -6.2,10 H6.2 Q12.8,10 12.8,16.6 V38 a2.7,2.7 0 0 1 -5.4,0 V36.5 H-7.4 V38 a2.7,2.7 0 0 1 -5.4,0 Z" fill="url(#stip)"/><path d="M-7.4,18.5 V36.5 M7.4,18.5 V36.5" fill="none"/><circle cx="0" cy="0" r="7.2" fill="#fff"/><path d="M-3.4,0.8 Q0,5.2 3.4,0.8" fill="none" stroke-width="1"/><path d="M-3.6,-2.2 q1,-1.3 2,0 M1.6,-2.2 q1,-1.3 2,0" fill="none" stroke-width="0.9"/></g>
<g transform="translate(1075,172.6) scale(1)" stroke="#444" stroke-width="1.5" stroke-linejoin="round" stroke-linecap="round"><path d="M-7.2,34 H7.2 V65.6 a3,3 0 0 1 -6,0 V46.5 h-2.4 V65.6 a3,3 0 0 1 -6,0 Z" fill="url(#stip)"/><path d="M-12.8,38 V16.6 Q-12.8,10 -6.2,10 H6.2 Q12.8,10 12.8,16.6 V38 a2.7,2.7 0 0 1 -5.4,0 V36.5 H-7.4 V38 a2.7,2.7 0 0 1 -5.4,0 Z" fill="url(#stip)"/><path d="M-7.4,18.5 V36.5 M7.4,18.5 V36.5" fill="none"/><path d="M-8.6,6 Q-10.5,-9.5 0,-9.3 Q10.5,-9.5 8.6,6 Q6,8 4.5,5 L-4.5,5 Q-6,8 -8.6,6Z" fill="#a3a3a3"/><circle cx="0" cy="0" r="7.2" fill="#fff"/><path d="M-3.4,0.8 Q0,5.2 3.4,0.8" fill="none" stroke-width="1"/><path d="M-3.6,-2.2 q1,-1.3 2,0 M1.6,-2.2 q1,-1.3 2,0" fill="none" stroke-width="0.9"/></g>
<g transform="translate(991.8,173.6) scale(1)" stroke="#444" stroke-width="1.5" stroke-linejoin="round" stroke-linecap="round"><path d="M-7.2,34 H7.2 V65.6 a3,3 0 0 1 -6,0 V46.5 h-2.4 V65.6 a3,3 0 0 1 -6,0 Z" fill="url(#stip)"/><path d="M-12.8,38 V16.6 Q-12.8,10 -6.2,10 H6.2 Q12.8,10 12.8,16.6 V38 a2.7,2.7 0 0 1 -5.4,0 V36.5 H-7.4 V38 a2.7,2.7 0 0 1 -5.4,0 Z" fill="url(#stip)"/><path d="M-7.4,18.5 V36.5 M7.4,18.5 V36.5" fill="none"/><circle cx="0" cy="0" r="7.2" fill="#fff"/><path d="M-3.4,0.8 Q0,5.2 3.4,0.8" fill="none" stroke-width="1"/><path d="M-3.6,-2.2 q1,-1.3 2,0 M1.6,-2.2 q1,-1.3 2,0" fill="none" stroke-width="0.9"/></g>
<g transform="translate(1264.8,176.6) scale(1)" stroke="#444" stroke-width="1.5" stroke-linejoin="round" stroke-linecap="round"><path d="M-7.2,34 H7.2 V65.6 a3,3 0 0 1 -6,0 V46.5 h-2.4 V65.6 a3,3 0 0 1 -6,0 Z" fill="url(#stip)"/><path d="M-12.8,38 V16.6 Q-12.8,10 -6.2,10 H6.2 Q12.8,10 12.8,16.6 V38 a2.7,2.7 0 0 1 -5.4,0 V36.5 H-7.4 V38 a2.7,2.7 0 0 1 -5.4,0 Z" fill="url(#stip)"/><path d="M-7.4,18.5 V36.5 M7.4,18.5 V36.5" fill="none"/><circle cx="0" cy="0" r="7.2" fill="#fff"/><path d="M-3.4,0.8 Q0,5.2 3.4,0.8" fill="none" stroke-width="1"/><path d="M-3.6,-2.2 q1,-1.3 2,0 M1.6,-2.2 q1,-1.3 2,0" fill="none" stroke-width="0.9"/></g>
<g transform="translate(971.6,180.6) scale(1)" stroke="#444" stroke-width="1.5" stroke-linejoin="round" stroke-linecap="round"><path d="M-7.2,34 H7.2 V65.6 a3,3 0 0 1 -6,0 V46.5 h-2.4 V65.6 a3,3 0 0 1 -6,0 Z" fill="url(#stip)"/><path d="M-12.8,38 V16.6 Q-12.8,10 -6.2,10 H6.2 Q12.8,10 12.8,16.6 V38 a2.7,2.7 0 0 1 -5.4,0 V36.5 H-7.4 V38 a2.7,2.7 0 0 1 -5.4,0 Z" fill="url(#stip)"/><path d="M-7.4,18.5 V36.5 M7.4,18.5 V36.5" fill="none"/><circle cx="0" cy="0" r="7.2" fill="#fff"/><path d="M-3.4,0.8 Q0,5.2 3.4,0.8" fill="none" stroke-width="1"/><path d="M-3.6,-2.2 q1,-1.3 2,0 M1.6,-2.2 q1,-1.3 2,0" fill="none" stroke-width="0.9"/></g>
<g transform="translate(945.2,189.7) scale(1)" stroke="#444" stroke-width="1.5" stroke-linejoin="round" stroke-linecap="round"><path d="M-7.2,34 H7.2 V65.6 a3,3 0 0 1 -6,0 V46.5 h-2.4 V65.6 a3,3 0 0 1 -6,0 Z" fill="url(#stip)"/><path d="M-12.8,38 V16.6 Q-12.8,10 -6.2,10 H6.2 Q12.8,10 12.8,16.6 V38 a2.7,2.7 0 0 1 -5.4,0 V36.5 H-7.4 V38 a2.7,2.7 0 0 1 -5.4,0 Z" fill="url(#stip)"/><path d="M-7.4,18.5 V36.5 M7.4,18.5 V36.5" fill="none"/><circle cx="0" cy="0" r="7.2" fill="#fff"/><path d="M-3.4,0.8 Q0,5.2 3.4,0.8" fill="none" stroke-width="1"/><path d="M-3.6,-2.2 q1,-1.3 2,0 M1.6,-2.2 q1,-1.3 2,0" fill="none" stroke-width="0.9"/></g>
<g transform="translate(1004.4,188.6) scale(1)" stroke="#444" stroke-width="1.5" stroke-linejoin="round" stroke-linecap="round"><path d="M-7.2,34 H7.2 V65.6 a3,3 0 0 1 -6,0 V46.5 h-2.4 V65.6 a3,3 0 0 1 -6,0 Z" fill="url(#stip)"/><path d="M-12.8,38 V16.6 Q-12.8,10 -6.2,10 H6.2 Q12.8,10 12.8,16.6 V38 a2.7,2.7 0 0 1 -5.4,0 V36.5 H-7.4 V38 a2.7,2.7 0 0 1 -5.4,0 Z" fill="url(#stip)"/><path d="M-7.4,18.5 V36.5 M7.4,18.5 V36.5" fill="none"/><circle cx="0" cy="0" r="7.2" fill="#fff"/><path d="M-3.4,0.8 Q0,5.2 3.4,0.8" fill="none" stroke-width="1"/><path d="M-3.6,-2.2 q1,-1.3 2,0 M1.6,-2.2 q1,-1.3 2,0" fill="none" stroke-width="0.9"/></g>
<g transform="translate(1029,185.6) scale(1)" stroke="#444" stroke-width="1.5" stroke-linejoin="round" stroke-linecap="round"><path d="M-7.2,34 H7.2 V65.6 a3,3 0 0 1 -6,0 V46.5 h-2.4 V65.6 a3,3 0 0 1 -6,0 Z" fill="url(#stip)"/><path d="M-12.8,38 V16.6 Q-12.8,10 -6.2,10 H6.2 Q12.8,10 12.8,16.6 V38 a2.7,2.7 0 0 1 -5.4,0 V36.5 H-7.4 V38 a2.7,2.7 0 0 1 -5.4,0 Z" fill="url(#stip)"/><path d="M-7.4,18.5 V36.5 M7.4,18.5 V36.5" fill="none"/><circle cx="0" cy="0" r="7.2" fill="#fff"/><path d="M-3.4,0.8 Q0,5.2 3.4,0.8" fill="none" stroke-width="1"/><path d="M-3.6,-2.2 q1,-1.3 2,0 M1.6,-2.2 q1,-1.3 2,0" fill="none" stroke-width="0.9"/></g>
<g transform="translate(1121.7,183.2) scale(1)" stroke="#444" stroke-width="1.5" stroke-linejoin="round" stroke-linecap="round"><path d="M-7.2,34 H7.2 V65.6 a3,3 0 0 1 -6,0 V46.5 h-2.4 V65.6 a3,3 0 0 1 -6,0 Z" fill="url(#stip)"/><path d="M-12.8,38 V16.6 Q-12.8,10 -6.2,10 H6.2 Q12.8,10 12.8,16.6 V38 a2.7,2.7 0 0 1 -5.4,0 V36.5 H-7.4 V38 a2.7,2.7 0 0 1 -5.4,0 Z" fill="url(#stip)"/><path d="M-7.4,18.5 V36.5 M7.4,18.5 V36.5" fill="none"/><path d="M-8.6,6 Q-10.5,-9.5 0,-9.3 Q10.5,-9.5 8.6,6 Q6,8 4.5,5 L-4.5,5 Q-6,8 -8.6,6Z" fill="#a3a3a3"/><circle cx="0" cy="0" r="7.2" fill="#fff"/><path d="M-3.4,0.8 Q0,5.2 3.4,0.8" fill="none" stroke-width="1"/><path d="M-3.6,-2.2 q1,-1.3 2,0 M1.6,-2.2 q1,-1.3 2,0" fill="none" stroke-width="0.9"/></g>
<g transform="translate(1153.1,180.6) scale(1)" stroke="#444" stroke-width="1.5" stroke-linejoin="round" stroke-linecap="round"><path d="M-7.2,34 H7.2 V65.6 a3,3 0 0 1 -6,0 V46.5 h-2.4 V65.6 a3,3 0 0 1 -6,0 Z" fill="url(#stip)"/><path d="M-12.8,38 V16.6 Q-12.8,10 -6.2,10 H6.2 Q12.8,10 12.8,16.6 V38 a2.7,2.7 0 0 1 -5.4,0 V36.5 H-7.4 V38 a2.7,2.7 0 0 1 -5.4,0 Z" fill="url(#stip)"/><path d="M-7.4,18.5 V36.5 M7.4,18.5 V36.5" fill="none"/><circle cx="0" cy="0" r="7.2" fill="#fff"/><path d="M-3.4,0.8 Q0,5.2 3.4,0.8" fill="none" stroke-width="1"/><path d="M-3.6,-2.2 q1,-1.3 2,0 M1.6,-2.2 q1,-1.3 2,0" fill="none" stroke-width="0.9"/></g>
<g transform="translate(1222.9,187.6) scale(1)" stroke="#444" stroke-width="1.5" stroke-linejoin="round" stroke-linecap="round"><path d="M-7.2,34 H7.2 V65.6 a3,3 0 0 1 -6,0 V46.5 h-2.4 V65.6 a3,3 0 0 1 -6,0 Z" fill="url(#stip)"/><path d="M-12.8,38 V16.6 Q-12.8,10 -6.2,10 H6.2 Q12.8,10 12.8,16.6 V38 a2.7,2.7 0 0 1 -5.4,0 V36.5 H-7.4 V38 a2.7,2.7 0 0 1 -5.4,0 Z" fill="url(#stip)"/><path d="M-7.4,18.5 V36.5 M7.4,18.5 V36.5" fill="none"/><circle cx="0" cy="0" r="7.2" fill="#c6c6c6"/></g>
<g transform="translate(1297,187.1) scale(1)" stroke="#444" stroke-width="1.5" stroke-linejoin="round" stroke-linecap="round"><path d="M-7.2,34 H7.2 V65.6 a3,3 0 0 1 -6,0 V46.5 h-2.4 V65.6 a3,3 0 0 1 -6,0 Z" fill="url(#stip)"/><path d="M-12.8,38 V16.6 Q-12.8,10 -6.2,10 H6.2 Q12.8,10 12.8,16.6 V38 a2.7,2.7 0 0 1 -5.4,0 V36.5 H-7.4 V38 a2.7,2.7 0 0 1 -5.4,0 Z" fill="url(#stip)"/><path d="M-7.4,18.5 V36.5 M7.4,18.5 V36.5" fill="none"/><circle cx="0" cy="0" r="7.2" fill="#fff"/><path d="M-3.4,0.8 Q0,5.2 3.4,0.8" fill="none" stroke-width="1"/><path d="M-3.6,-2.2 q1,-1.3 2,0 M1.6,-2.2 q1,-1.3 2,0" fill="none" stroke-width="0.9"/></g>
<g transform="translate(1328.4,187.6) scale(1)" stroke="#444" stroke-width="1.5" stroke-linejoin="round" stroke-linecap="round"><path d="M-7.2,34 H7.2 V65.6 a3,3 0 0 1 -6,0 V46.5 h-2.4 V65.6 a3,3 0 0 1 -6,0 Z" fill="url(#stip)"/><path d="M-12.8,38 V16.6 Q-12.8,10 -6.2,10 H6.2 Q12.8,10 12.8,16.6 V38 a2.7,2.7 0 0 1 -5.4,0 V36.5 H-7.4 V38 a2.7,2.7 0 0 1 -5.4,0 Z" fill="url(#stip)"/><path d="M-7.4,18.5 V36.5 M7.4,18.5 V36.5" fill="none"/><circle cx="0" cy="0" r="7.2" fill="#fff"/><path d="M-3.4,0.8 Q0,5.2 3.4,0.8" fill="none" stroke-width="1"/><path d="M-3.6,-2.2 q1,-1.3 2,0 M1.6,-2.2 q1,-1.3 2,0" fill="none" stroke-width="0.9"/></g>
<g transform="translate(1090.5,188.4) scale(1)" stroke="#444" stroke-width="1.5" stroke-linejoin="round" stroke-linecap="round"><path d="M-7.2,34 H7.2 V65.6 a3,3 0 0 1 -6,0 V46.5 h-2.4 V65.6 a3,3 0 0 1 -6,0 Z" fill="url(#stip)"/><path d="M-12.8,38 V16.6 Q-12.8,10 -6.2,10 H6.2 Q12.8,10 12.8,16.6 V38 a2.7,2.7 0 0 1 -5.4,0 V36.5 H-7.4 V38 a2.7,2.7 0 0 1 -5.4,0 Z" fill="url(#stip)"/><path d="M-7.4,18.5 V36.5 M7.4,18.5 V36.5" fill="none"/><circle cx="0" cy="0" r="7.2" fill="#fff"/><path d="M-3.4,0.8 Q0,5.2 3.4,0.8" fill="none" stroke-width="1"/><path d="M-3.6,-2.2 q1,-1.3 2,0 M1.6,-2.2 q1,-1.3 2,0" fill="none" stroke-width="0.9"/></g>
<g transform="translate(1186.3,189.7) scale(1)" stroke="#444" stroke-width="1.5" stroke-linejoin="round" stroke-linecap="round"><path d="M-7.2,34 H7.2 V65.6 a3,3 0 0 1 -6,0 V46.5 h-2.4 V65.6 a3,3 0 0 1 -6,0 Z" fill="url(#stip)"/><path d="M-12.8,38 V16.6 Q-12.8,10 -6.2,10 H6.2 Q12.8,10 12.8,16.6 V38 a2.7,2.7 0 0 1 -5.4,0 V36.5 H-7.4 V38 a2.7,2.7 0 0 1 -5.4,0 Z" fill="url(#stip)"/><path d="M-7.4,18.5 V36.5 M7.4,18.5 V36.5" fill="none"/><circle cx="0" cy="0" r="7.2" fill="#fff"/><path d="M-3.4,0.8 Q0,5.2 3.4,0.8" fill="none" stroke-width="1"/><path d="M-3.6,-2.2 q1,-1.3 2,0 M1.6,-2.2 q1,-1.3 2,0" fill="none" stroke-width="0.9"/></g>
<g transform="translate(923.5,201.5)" stroke="#2b2b2b" stroke-width="1.8" stroke-linejoin="round" stroke-linecap="round"><path d="M-7,34 L-8.5,64 a3,3 0 0 0 6,0 L0,40 Z" fill="#aeaeae"/><path d="M7,34 L14.5,61 a3,3 0 0 1 -5.6,2 L0,40 L-7,34Z" fill="#aeaeae"/><path d="M-7,34 H7 L0,41Z" fill="#aeaeae" stroke="none"/><path d="M-11.5,17 L-16.5,35.5 a2.6,2.6 0 0 0 5,1.4 L-7.4,22 V36.5 H7.4 V22 L11.5,36.9 a2.6,2.6 0 0 0 5,-1.4 L11.5,17 Q10.5,10 4.5,10 H-4.5 Q-10.5,10 -11.5,17 Z" fill="#fff"/><path d="M-7.4,22 V19 M7.4,22 V19" fill="none"/><circle cx="0" cy="0" r="7.2" fill="#fff"/><path d="M-3.4,0.8 Q0,5.2 3.4,0.8" fill="none" stroke-width="1.05"/><path d="M-3.6,-2.2 q1,-1.3 2,0 M1.6,-2.2 q1,-1.3 2,0" fill="none" stroke-width="0.9"/></g>
<g stroke="#2b2b2b" stroke-width="1.4" stroke-linejoin="round"><path d="M935,227 v14" fill="none"/><rect x="928.6" y="241.5" width="15.6" height="12.4" rx="1.2" fill="url(#stip)"/><path d="M932.5,241.5 v-2.6 h7.6 v2.6" fill="none"/></g>
<path d="M915,212 L900.5,203.5 a2.6,2.6 0 0 0 -2.6,4.4 L912,219.5 Z" fill="#fff" stroke="#2b2b2b" stroke-width="1.8" stroke-linejoin="round"/>
<g transform="translate(879.7,201.5)" stroke="#2b2b2b" stroke-width="1.8" stroke-linejoin="round" stroke-linecap="round"><path d="M-7,34 L-12.5,63.5 a3,3 0 0 0 5.8,1.2 L0,40 Z" fill="#aeaeae"/><path d="M7,34 L11.5,63.5 a3,3 0 0 1 -5.8,1.2 L0,40 L-7,34 Z" fill="#aeaeae"/><path d="M-7,34 H7 L0,41Z" fill="#aeaeae" stroke="none"/><path d="M-11.5,17 L-16.5,35.5 a2.6,2.6 0 0 0 5,1.4 L-7.4,22 V36.5 H7.4 V22 L11.5,36.9 a2.6,2.6 0 0 0 5,-1.4 L11.5,17 Q10.5,10 4.5,10 H-4.5 Q-10.5,10 -11.5,17 Z" fill="#fff"/><path d="M-7.4,22 V19 M7.4,22 V19" fill="none"/><circle cx="0" cy="0" r="7.2" fill="#fff"/><path d="M-3.4,0.8 Q0,5.2 3.4,0.8" fill="none" stroke-width="1.05"/><path d="M-3.6,-2.2 q1,-1.3 2,0 M1.6,-2.2 q1,-1.3 2,0" fill="none" stroke-width="0.9"/></g>
<path d="M888,214 L901.5,222 a2.6,2.6 0 0 1 -2.4,4.6 L886.5,221 Z" fill="#fff" stroke="#2b2b2b" stroke-width="1.8" stroke-linejoin="round"/>
<g transform="translate(959.9,202.4)" stroke="#2b2b2b" stroke-width="1.8" stroke-linejoin="round" stroke-linecap="round"><path d="M-7,34 L-12.5,63.5 a3,3 0 0 0 5.8,1.2 L0,40 Z" fill="#aeaeae"/><path d="M7,34 L11.5,63.5 a3,3 0 0 1 -5.8,1.2 L0,40 L-7,34 Z" fill="#aeaeae"/><path d="M-7,34 H7 L0,41Z" fill="#aeaeae" stroke="none"/><path d="M-11.5,17 L-16.5,35.5 a2.6,2.6 0 0 0 5,1.4 L-7.4,22 V36.5 H7.4 V22 L11.5,36.9 a2.6,2.6 0 0 0 5,-1.4 L11.5,17 Q10.5,10 4.5,10 H-4.5 Q-10.5,10 -11.5,17 Z" fill="#fff"/><path d="M-7.4,22 V19 M7.4,22 V19" fill="none"/><circle cx="0" cy="0" r="7.2" fill="#fff"/><path d="M-3.4,0.8 Q0,5.2 3.4,0.8" fill="none" stroke-width="1.05"/><path d="M-3.6,-2.2 q1,-1.3 2,0 M1.6,-2.2 q1,-1.3 2,0" fill="none" stroke-width="0.9"/></g>
<g transform="translate(987.3,200.3)" stroke="#2b2b2b" stroke-width="1.8" stroke-linejoin="round" stroke-linecap="round"><path d="M-7,34 L-8.5,64 a3,3 0 0 0 6,0 L0,40 Z" fill="#aeaeae"/><path d="M7,34 L14.5,61 a3,3 0 0 1 -5.6,2 L0,40 L-7,34Z" fill="#aeaeae"/><path d="M-7,34 H7 L0,41Z" fill="#aeaeae" stroke="none"/><path d="M-11.5,17 L-16.5,35.5 a2.6,2.6 0 0 0 5,1.4 L-7.4,22 V36.5 H7.4 V22 L11.5,36.9 a2.6,2.6 0 0 0 5,-1.4 L11.5,17 Q10.5,10 4.5,10 H-4.5 Q-10.5,10 -11.5,17 Z" fill="#fff"/><path d="M-7.4,22 V19 M7.4,22 V19" fill="none"/><path d="M0,23.2 c-1.2,-2.6 -4.4,-1.6 -3.6,1 c0.5,1.6 2.4,2.8 3.6,4 c1.2,-1.2 3.1,-2.4 3.6,-4 c0.8,-2.6 -2.4,-3.6 -3.6,-1z" fill="#cfcfcf" stroke-width="1"/><circle cx="0" cy="0" r="7.2" fill="#fff"/><path d="M-3.4,0.8 Q0,5.2 3.4,0.8" fill="none" stroke-width="1.05"/><path d="M-3.6,-2.2 q1,-1.3 2,0 M1.6,-2.2 q1,-1.3 2,0" fill="none" stroke-width="0.9"/></g>
<g transform="translate(1015.3,204.2) scale(0.94)" stroke="#2b2b2b" stroke-width="1.91" stroke-linejoin="round" stroke-linecap="round"><path d="M-6,48 V66 a2.3,2.3 0 0 0 4.6,0 V48 M1.4,48 V66 a2.3,2.3 0 0 0 4.6,0 V48" fill="#fff"/><path d="M-12.8,38 V16.6 Q-12.8,10 -6.2,10 H6.2 Q12.8,10 12.8,16.6 V38 a2.7,2.7 0 0 1 -5.4,0 V36.5 H-7.4 V38 a2.7,2.7 0 0 1 -5.4,0 Z" fill="#d0d0d0"/><path d="M-7.4,18.5 V36.5 M7.4,18.5 V36.5" fill="none"/><path d="M-7.4,30 L-12.4,49.5 H12.4 L7.4,30 Z" fill="#aeaeae"/><path d="M-7.4,30 H7.4" fill="none"/><path d="M-8.6,6 Q-10.5,-9.5 0,-9.3 Q10.5,-9.5 8.6,6 Q6,8 4.5,5 L-4.5,5 Q-6,8 -8.6,6Z" fill="#a3a3a3"/><circle cx="0" cy="0" r="7.2" fill="#fff"/><path d="M-3.4,0.8 Q0,5.2 3.4,0.8" fill="none" stroke-width="1.06"/><path d="M-3.6,-2.2 q1,-1.3 2,0 M1.6,-2.2 q1,-1.3 2,0" fill="none" stroke-width="0.96"/></g>
<g transform="translate(1044.7,201.5) scale(1)" stroke="#2b2b2b" stroke-width="1.8" stroke-linejoin="round" stroke-linecap="round"><path d="M-7.2,34 H7.2 V65.6 a3,3 0 0 1 -6,0 V46.5 h-2.4 V65.6 a3,3 0 0 1 -6,0 Z" fill="#aeaeae"/><path d="M-12.8,38 V16.6 Q-12.8,10 -6.2,10 H6.2 Q12.8,10 12.8,16.6 V38 a2.7,2.7 0 0 1 -5.4,0 V36.5 H-7.4 V38 a2.7,2.7 0 0 1 -5.4,0 Z" fill="#cbcbcb"/><path d="M-7.4,18.5 V36.5 M7.4,18.5 V36.5" fill="none"/><path d="M0,23.2 c-1.2,-2.6 -4.4,-1.6 -3.6,1 c0.5,1.6 2.4,2.8 3.6,4 c1.2,-1.2 3.1,-2.4 3.6,-4 c0.8,-2.6 -2.4,-3.6 -3.6,-1z" fill="#fff" stroke-width="1"/><circle cx="0" cy="0" r="7.2" fill="#fff"/><path d="M-3.4,0.8 Q0,5.2 3.4,0.8" fill="none" stroke-width="1"/><path d="M-3.6,-2.2 q1,-1.3 2,0 M1.6,-2.2 q1,-1.3 2,0" fill="none" stroke-width="0.9"/></g>
<g transform="translate(1068.8,193.2) scale(1)" stroke="#2b2b2b" stroke-width="1.8" stroke-linejoin="round" stroke-linecap="round"><path d="M-7.2,34 H7.2 V65.6 a3,3 0 0 1 -6,0 V46.5 h-2.4 V65.6 a3,3 0 0 1 -6,0 Z" fill="#aeaeae"/><path d="M-12.8,38 V16.6 Q-12.8,10 -6.2,10 H6.2 Q12.8,10 12.8,16.6 V38 a2.7,2.7 0 0 1 -5.4,0 V36.5 H-7.4 V38 a2.7,2.7 0 0 1 -5.4,0 Z" fill="#fff"/><path d="M-7.4,18.5 V36.5 M7.4,18.5 V36.5" fill="none"/><circle cx="0" cy="0" r="7.2" fill="#fff"/><path d="M-3.4,0.8 Q0,5.2 3.4,0.8" fill="none" stroke-width="1"/><path d="M-3.6,-2.2 q1,-1.3 2,0 M1.6,-2.2 q1,-1.3 2,0" fill="none" stroke-width="0.9"/></g>
<path d="M1058.5,206 L1054.2,186.5 a2.5,2.5 0 0 1 4.9,-1 L1064,203.5 Z" fill="#fff" stroke="#2b2b2b" stroke-width="1.8" stroke-linejoin="round"/>
<g transform="translate(1111.2,202.8) scale(1)" stroke="#2b2b2b" stroke-width="1.8" stroke-linejoin="round" stroke-linecap="round"><path d="M-7.2,34 H7.2 V65.6 a3,3 0 0 1 -6,0 V46.5 h-2.4 V65.6 a3,3 0 0 1 -6,0 Z" fill="#aeaeae"/><path d="M-12.8,38 V16.6 Q-12.8,10 -6.2,10 H6.2 Q12.8,10 12.8,16.6 V38 a2.7,2.7 0 0 1 -5.4,0 V36.5 H-7.4 V38 a2.7,2.7 0 0 1 -5.4,0 Z" fill="#fff"/><path d="M-7.4,18.5 V36.5 M7.4,18.5 V36.5" fill="none"/><circle cx="0" cy="0" r="7.2" fill="#fff"/><path d="M-3.4,0.8 Q0,5.2 3.4,0.8" fill="none" stroke-width="1"/><path d="M-3.6,-2.2 q1,-1.3 2,0 M1.6,-2.2 q1,-1.3 2,0" fill="none" stroke-width="0.9"/></g>
<g transform="translate(1138.7,197.6)" stroke="#2b2b2b" stroke-width="1.8" stroke-linejoin="round" stroke-linecap="round"><path d="M-7,34 L-8.5,64 a3,3 0 0 0 6,0 L0,40 Z" fill="#aeaeae"/><path d="M7,34 L14.5,61 a3,3 0 0 1 -5.6,2 L0,40 L-7,34Z" fill="#aeaeae"/><path d="M-7,34 H7 L0,41Z" fill="#aeaeae" stroke="none"/><path d="M-11.5,17 L-16.5,35.5 a2.6,2.6 0 0 0 5,1.4 L-7.4,22 V36.5 H7.4 V22 L11.5,36.9 a2.6,2.6 0 0 0 5,-1.4 L11.5,17 Q10.5,10 4.5,10 H-4.5 Q-10.5,10 -11.5,17 Z" fill="#fff"/><path d="M-7.4,22 V19 M7.4,22 V19" fill="none"/><path d="M-1,20.5 h4.6 v4.2 q-2.3,1.8 -4.6,0z" fill="#fff" stroke-width="1"/><circle cx="0" cy="0" r="7.2" fill="#fff"/><path d="M-3.4,0.8 Q0,5.2 3.4,0.8" fill="none" stroke-width="1.05"/><path d="M-3.6,-2.2 q1,-1.3 2,0 M1.6,-2.2 q1,-1.3 2,0" fill="none" stroke-width="0.9"/></g>
<g transform="translate(1166.1,202.8) scale(1)" stroke="#2b2b2b" stroke-width="1.8" stroke-linejoin="round" stroke-linecap="round"><path d="M-7.2,34 H7.2 V65.6 a3,3 0 0 1 -6,0 V46.5 h-2.4 V65.6 a3,3 0 0 1 -6,0 Z" fill="#aeaeae"/><path d="M-12.8,38 V16.6 Q-12.8,10 -6.2,10 H6.2 Q12.8,10 12.8,16.6 V38 a2.7,2.7 0 0 1 -5.4,0 V36.5 H-7.4 V38 a2.7,2.7 0 0 1 -5.4,0 Z" fill="#fff"/><path d="M-7.4,18.5 V36.5 M7.4,18.5 V36.5" fill="none"/><circle cx="0" cy="0" r="7.2" fill="#fff"/><path d="M-3.4,0.8 Q0,5.2 3.4,0.8" fill="none" stroke-width="1"/><path d="M-3.6,-2.2 q1,-1.3 2,0 M1.6,-2.2 q1,-1.3 2,0" fill="none" stroke-width="0.9"/></g>
<g transform="translate(1206.7,200.7) scale(1)" stroke="#2b2b2b" stroke-width="1.8" stroke-linejoin="round" stroke-linecap="round"><path d="M-7.2,34 H7.2 V65.6 a3,3 0 0 1 -6,0 V46.5 h-2.4 V65.6 a3,3 0 0 1 -6,0 Z" fill="#aeaeae"/><path d="M-12.8,38 V16.6 Q-12.8,10 -6.2,10 H6.2 Q12.8,10 12.8,16.6 V38 a2.7,2.7 0 0 1 -5.4,0 V36.5 H-7.4 V38 a2.7,2.7 0 0 1 -5.4,0 Z" fill="#cdcdcd"/><path d="M-7.4,18.5 V36.5 M7.4,18.5 V36.5" fill="none"/><circle cx="0" cy="0" r="7.2" fill="#fff"/><path d="M-3.4,0.8 Q0,5.2 3.4,0.8" fill="none" stroke-width="1"/><path d="M-3.6,-2.2 q1,-1.3 2,0 M1.6,-2.2 q1,-1.3 2,0" fill="none" stroke-width="0.9"/></g>
<g transform="translate(1250.4,198.1) scale(1)" stroke="#2b2b2b" stroke-width="1.8" stroke-linejoin="round" stroke-linecap="round"><path d="M-7.2,34 H7.2 V65.6 a3,3 0 0 1 -6,0 V46.5 h-2.4 V65.6 a3,3 0 0 1 -6,0 Z" fill="#aeaeae"/><path d="M-12.8,38 V16.6 Q-12.8,10 -6.2,10 H6.2 Q12.8,10 12.8,16.6 V38 a2.7,2.7 0 0 1 -5.4,0 V36.5 H-7.4 V38 a2.7,2.7 0 0 1 -5.4,0 Z" fill="#c9c9c9"/><path d="M-7.4,18.5 V36.5 M7.4,18.5 V36.5" fill="none"/><circle cx="0" cy="0" r="7.2" fill="#cfcfcf"/><path d="M-3.4,0.8 Q0,5.2 3.4,0.8" fill="none" stroke-width="1"/><path d="M-3.6,-2.2 q1,-1.3 2,0 M1.6,-2.2 q1,-1.3 2,0" fill="none" stroke-width="0.9"/></g>
<g transform="translate(1227.1,208.5) scale(1)" stroke="#2b2b2b" stroke-width="1.8" stroke-linejoin="round" stroke-linecap="round"><path d="M-7.2,34 H7.2 V65.6 a3,3 0 0 1 -6,0 V46.5 h-2.4 V65.6 a3,3 0 0 1 -6,0 Z" fill="#aeaeae"/><path d="M-7.6,52 h6.8 v11 h3.6 a3.2,3.2 0 0 1 0,6.2 h-10.4 z" fill="#fff"/><path d="M-7.6,55.5 h6.8 M-7.6,59 h6.8" fill="none"/><path d="M-12.8,38 V16.6 Q-12.8,10 -6.2,10 H6.2 Q12.8,10 12.8,16.6 V38 a2.7,2.7 0 0 1 -5.4,0 V36.5 H-7.4 V38 a2.7,2.7 0 0 1 -5.4,0 Z" fill="#fff"/><path d="M-7.4,18.5 V36.5 M7.4,18.5 V36.5" fill="none"/><circle cx="0" cy="0" r="7.2" fill="#fff"/><path d="M-3.4,0.8 Q0,5.2 3.4,0.8" fill="none" stroke-width="1"/><path d="M-3.6,-2.2 q1,-1.3 2,0 M1.6,-2.2 q1,-1.3 2,0" fill="none" stroke-width="0.9"/></g>
<g transform="translate(1278.6,204.1) scale(0.94)" stroke="#2b2b2b" stroke-width="1.91" stroke-linejoin="round" stroke-linecap="round"><path d="M-6,48 V66 a2.3,2.3 0 0 0 4.6,0 V48 M1.4,48 V66 a2.3,2.3 0 0 0 4.6,0 V48" fill="#fff"/><path d="M-12.8,38 V16.6 Q-12.8,10 -6.2,10 H6.2 Q12.8,10 12.8,16.6 V38 a2.7,2.7 0 0 1 -5.4,0 V36.5 H-7.4 V38 a2.7,2.7 0 0 1 -5.4,0 Z" fill="#d0d0d0"/><path d="M-7.4,18.5 V36.5 M7.4,18.5 V36.5" fill="none"/><path d="M-7.4,30 L-12.4,49.5 H12.4 L7.4,30 Z" fill="#aeaeae"/><path d="M-7.4,30 H7.4" fill="none"/><path d="M-8.6,6 Q-10.5,-9.5 0,-9.3 Q10.5,-9.5 8.6,6 Q6,8 4.5,5 L-4.5,5 Q-6,8 -8.6,6Z" fill="#a3a3a3"/><circle cx="0" cy="0" r="7.2" fill="#fff"/><path d="M-3.4,0.8 Q0,5.2 3.4,0.8" fill="none" stroke-width="1.06"/><path d="M-3.6,-2.2 q1,-1.3 2,0 M1.6,-2.2 q1,-1.3 2,0" fill="none" stroke-width="0.96"/></g>
<g transform="translate(1310.6,202.8) scale(1)" stroke="#2b2b2b" stroke-width="1.8" stroke-linejoin="round" stroke-linecap="round"><path d="M-7.2,34 H7.2 V65.6 a3,3 0 0 1 -6,0 V46.5 h-2.4 V65.6 a3,3 0 0 1 -6,0 Z" fill="#aeaeae"/><path d="M-12.8,38 V16.6 Q-12.8,10 -6.2,10 H6.2 Q12.8,10 12.8,16.6 V38 a2.7,2.7 0 0 1 -5.4,0 V36.5 H-7.4 V38 a2.7,2.7 0 0 1 -5.4,0 Z" fill="#d8d8d8"/><path d="M-7.4,18.5 V36.5 M7.4,18.5 V36.5" fill="none"/><path d="M0,23.2 c-1.2,-2.6 -4.4,-1.6 -3.6,1 c0.5,1.6 2.4,2.8 3.6,4 c1.2,-1.2 3.1,-2.4 3.6,-4 c0.8,-2.6 -2.4,-3.6 -3.6,-1z" fill="#fff" stroke-width="1"/><circle cx="0" cy="0" r="7.2" fill="#fff"/><path d="M-3.4,0.8 Q0,5.2 3.4,0.8" fill="none" stroke-width="1"/><path d="M-3.6,-2.2 q1,-1.3 2,0 M1.6,-2.2 q1,-1.3 2,0" fill="none" stroke-width="0.9"/></g>
<g transform="translate(1338.3,210.1) scale(1)" stroke="#2b2b2b" stroke-width="1.8" stroke-linejoin="round" stroke-linecap="round"><path d="M-7.2,34 H7.2 V65.6 a3,3 0 0 1 -6,0 V46.5 h-2.4 V65.6 a3,3 0 0 1 -6,0 Z" fill="#aeaeae"/><path d="M-12.8,38 V16.6 Q-12.8,10 -6.2,10 H6.2 Q12.8,10 12.8,16.6 V38 a2.7,2.7 0 0 1 -5.4,0 V36.5 H-7.4 V38 a2.7,2.7 0 0 1 -5.4,0 Z" fill="#fff"/><path d="M-7.4,18.5 V36.5 M7.4,18.5 V36.5" fill="none"/><path d="M-8.6,6 Q-10.5,-9.5 0,-9.3 Q10.5,-9.5 8.6,6 Q6,8 4.5,5 L-4.5,5 Q-6,8 -8.6,6Z" fill="#a3a3a3"/><circle cx="0" cy="0" r="7.2" fill="#fff"/><path d="M-3.4,0.8 Q0,5.2 3.4,0.8" fill="none" stroke-width="1"/><path d="M-3.6,-2.2 q1,-1.3 2,0 M1.6,-2.2 q1,-1.3 2,0" fill="none" stroke-width="0.9"/></g>
<path d="M1037.9,153.6 H1056.5 Q1059.7,153.6 1059.7,156.8 V171 Q1059.7,174.2 1056.5,174.2 H1047.2 L1040.5,179.6 L1041.2,174.2 H1037.9 Q1034.7,174.2 1034.7,171 V156.8 Q1034.7,153.6 1037.9,153.6 Z" fill="#fff" stroke="#2b2b2b" stroke-width="1.9" stroke-linejoin="round"/>
<path transform="translate(1047.2,163.6) scale(1.55)" d="M0,-2.2 c-1.2,-2.6 -4.6,-1.6 -3.8,1.2 c0.6,1.9 2.6,3.2 3.8,4.4 c1.2,-1.2 3.2,-2.5 3.8,-4.4 c0.8,-2.8 -2.6,-3.8 -3.8,-1.2z" fill="#b9b9b9" stroke="#2b2b2b" stroke-width="0.9"/>
<path d="M1230.3,155.7 H1248.5 Q1251.7,155.7 1251.7,158.9 V172.1 Q1251.7,175.3 1248.5,175.3 H1239.51 L1234.2,180.6 L1233.51,175.3 H1230.3 Q1227.1,175.3 1227.1,172.1 V158.9 Q1227.1,155.7 1230.3,155.7 Z" fill="#fff" stroke="#2b2b2b" stroke-width="1.9" stroke-linejoin="round"/>
<path transform="translate(1239.4,165.2) scale(1.55)" d="M0,-2.2 c-1.2,-2.6 -4.6,-1.6 -3.8,1.2 c0.6,1.9 2.6,3.2 3.8,4.4 c1.2,-1.2 3.2,-2.5 3.8,-4.4 c0.8,-2.8 -2.6,-3.8 -3.8,-1.2z" fill="#b9b9b9" stroke="#2b2b2b" stroke-width="0.9"/>
<path d="M1307.5,153.6 H1325.2 Q1328.4,153.6 1328.4,156.8 V169.5 Q1328.4,172.7 1325.2,172.7 H1316.6 L1310,178.7 L1310.6,172.7 H1307.5 Q1304.3,172.7 1304.3,169.5 V156.8 Q1304.3,153.6 1307.5,153.6 Z" fill="#fff" stroke="#2b2b2b" stroke-width="1.9" stroke-linejoin="round"/>
<path d="M1309.35,163.15 h3 l1.6,-4.5 l2.4,8.5 l2.2,-6 l1.2,2 h3.4" fill="none" stroke="#2b2b2b" stroke-width="1.2" stroke-linejoin="round"/>
<path d="M954.8,273.6 Q885,293 863.88,308.98" fill="none" stroke="#141414" stroke-width="2.4" stroke-linecap="round"/>
<path d="M858.3,313.2 L863.79,301.62 L865.29,307.91 L870.93,311.07 Z" fill="#141414"/>
<path d="M907.8,311.5 Q888,298 885.4,281.71" fill="none" stroke="#141414" stroke-width="2.4" stroke-linecap="round"/>
<path d="M884.3,274.8 L891.94,285.09 L885.68,283.45 L880.24,286.95 Z" fill="#141414"/>
<path d="M979.6,274.3 Q973,284 963.5,290.9" fill="none" stroke="#141414" stroke-width="2.4" stroke-linecap="round"/>
<path d="M1010,274.8 Q1001,293 990.36,299.97" fill="none" stroke="#141414" stroke-width="2.4" stroke-linecap="round"/>
<path d="M984.5,303.8 L990.76,292.63 L991.83,299 L997.25,302.53 Z" fill="#141414"/>
<path d="M1062.8,267.4 Q1062.8,278 1062.8,282.1" fill="none" stroke="#141414" stroke-width="2.4" stroke-linecap="round"/>
<path d="M1062.8,289.1 L1056.88,277.74 L1062.8,280.34 L1068.72,277.74 Z" fill="#141414"/>
<path d="M1119,274 Q1127,290 1138.56,299.78" fill="none" stroke="#141414" stroke-width="2.4" stroke-linecap="round"/>
<path d="M1143.9,304.3 L1131.4,301.48 L1137.21,298.64 L1139.05,292.44 Z" fill="#141414"/>
<path d="M1181.3,270 Q1228,283 1246.37,314.46" fill="none" stroke="#141414" stroke-width="2.4" stroke-linecap="round"/>
<path d="M1249.9,320.5 L1239.06,313.68 L1245.48,312.94 L1249.28,307.7 Z" fill="#141414"/>
<path d="M1261.6,312.7 Q1262,290 1268.24,280.54" fill="none" stroke="#141414" stroke-width="2.4" stroke-linecap="round"/>
<path d="M1272.1,274.7 L1270.78,287.44 L1267.27,282.01 L1260.9,280.92 Z" fill="#141414"/>
<path d="M883.9,364.2 Q940,372 988.76,378.48" fill="none" stroke="#141414" stroke-width="2.4" stroke-linecap="round"/>
<path d="M995.7,379.4 L983.66,383.77 L987.02,378.25 L985.22,372.04 Z" fill="#141414"/>
<path d="M992.2,342.7 Q1004,353 1011.53,359.59" fill="none" stroke="#141414" stroke-width="2.4" stroke-linecap="round"/>
<path d="M1016.8,364.2 L1004.35,361.17 L1010.21,358.43 L1012.15,352.26 Z" fill="#141414"/>
<path d="M1147.5,331 Q1128,347 1114.84,359.15" fill="none" stroke="#141414" stroke-width="2.4" stroke-linecap="round"/>
<path d="M1109.7,363.9 L1114.03,351.84 L1116.14,357.96 L1122.06,360.54 Z" fill="#141414"/>
<path d="M1234.7,363.6 Q1180,372 1136.4,379.34" fill="none" stroke="#141414" stroke-width="2.4" stroke-linecap="round"/>
<path d="M1129.5,380.5 L1139.72,372.78 L1138.14,379.05 L1141.69,384.45 Z" fill="#141414"/>
<path d="M850.4,384.8 V391 Q850.4,397.7 857,397.7 H984" fill="none" stroke="#141414" stroke-width="2.4" stroke-linecap="round"/>
<path d="M991,397.7 L979.64,403.62 L982.24,397.7 L979.64,391.78 Z" fill="#141414"/>
<path d="M1269,384.8 V391 Q1269,397.3 1262.4,397.3 H1141" fill="none" stroke="#141414" stroke-width="2.4" stroke-linecap="round"/>
<path d="M1134.4,397.3 L1145.76,391.38 L1143.16,397.3 L1145.76,403.22 Z" fill="#141414"/>
<rect x="824.1" y="319.8" width="9.2" height="26.4" fill="#dcdcdc" stroke="#141414" stroke-width="2.4" stroke-linejoin="round"/>
<path d="M820.9,383.8 V346.2 H813.8 L849.6,316.7 L886.5,346.2 H878.7 V383.8 Z" fill="#dcdcdc" stroke="#141414" stroke-width="2.8" stroke-linejoin="round"/>
<g transform="translate(848.9,334.7)" stroke="#2b2b2b" stroke-width="1.8" stroke-linejoin="round" stroke-linecap="round"><rect x="-18.4" y="10.6" width="9" height="26" rx="3.5" fill="#ededed"/><rect x="17.6" y="27" width="7.6" height="19" rx="3" fill="#ededed"/><path d="M-22.6,29 a4,4 0 0 1 8,0 V36.5 H19 V46.5 H-22.6 Z" fill="#ededed"/><path d="M-4,27.5 L11.5,28.5 Q16.5,29 16.8,34 L17.6,47.5 a2.5,2.5 0 0 1 -5,0.4 L12,36 L-4,34.5 Z" fill="#b5b5b5"/><path d="M-10.8,28 V14.5 Q-10.8,8 -4,8 H-1 Q5,8 5,14.5 V28 Z" fill="#fff"/><path d="M-9,28.5 L7.5,30 Q12.5,30.5 12.8,35.5 L13.6,49.5 a2.5,2.5 0 0 1 -5,0.4 L8,37.5 L-9,36 Q-11.5,32 -9,28.5 Z" fill="#b5b5b5"/><path d="M7.8,10.8 L18.4,9.5 L15.6,21.3 L5,22.4 Z" fill="#c4c4c4"/><path d="M-3,13 L-5.4,22 Q-6,25.5 -2.5,25 L8.5,22.6 a2.2,2.2 0 0 0 -0.8,-4.4 L0.6,19.4 L1.8,14 Z" fill="#fff"/><circle cx="0" cy="0" r="6.4" fill="#fff"/></g>
<rect x="1198.8" y="290.6" width="9.3" height="27.4" fill="#dcdcdc" stroke="#141414" stroke-width="2.4" stroke-linejoin="round"/>
<path d="M1153.1,354.8 V318 H1145.3 L1181.6,287.5 L1218.6,318 H1211.3 V354.8 Z" fill="#dcdcdc" stroke="#141414" stroke-width="2.8" stroke-linejoin="round"/>
<g transform="translate(1182,306.4) scale(-1,1)" stroke="#2b2b2b" stroke-width="1.8" stroke-linejoin="round" stroke-linecap="round"><rect x="-18.4" y="10.6" width="9" height="26" rx="3.5" fill="#ededed"/><rect x="17.6" y="27" width="7.6" height="19" rx="3" fill="#ededed"/><path d="M-22.6,29 a4,4 0 0 1 8,0 V36.5 H19 V46.5 H-22.6 Z" fill="#ededed"/><path d="M-4,27.5 L11.5,28.5 Q16.5,29 16.8,34 L17.6,47.5 a2.5,2.5 0 0 1 -5,0.4 L12,36 L-4,34.5 Z" fill="#b5b5b5"/><path d="M-10.8,28 V14.5 Q-10.8,8 -4,8 H-1 Q5,8 5,14.5 V28 Z" fill="#fff"/><path d="M-9,28.5 L7.5,30 Q12.5,30.5 12.8,35.5 L13.6,49.5 a2.5,2.5 0 0 1 -5,0.4 L8,37.5 L-9,36 Q-11.5,32 -9,28.5 Z" fill="#b5b5b5"/><path d="M7.8,10.8 L18.4,9.5 L15.6,21.3 L5,22.4 Z" fill="#c4c4c4"/><path d="M-3,13 L-5.4,22 Q-6,25.5 -2.5,25 L8.5,22.6 a2.2,2.2 0 0 0 -0.8,-4.4 L0.6,19.4 L1.8,14 Z" fill="#fff"/><circle cx="0" cy="0" r="6.4" fill="#fff"/></g>
<rect x="1286.3" y="320.3" width="8.9" height="26.9" fill="#dcdcdc" stroke="#141414" stroke-width="2.4" stroke-linejoin="round"/>
<path d="M1240.2,384 V347.2 H1232.3 L1269,316.7 L1306.6,347.2 H1298.4 V384 Z" fill="#dcdcdc" stroke="#141414" stroke-width="2.8" stroke-linejoin="round"/>
<g transform="translate(1268.8,336.3) scale(-1,1)" stroke="#2b2b2b" stroke-width="1.8" stroke-linejoin="round" stroke-linecap="round"><path d="M-4,27.5 L11.5,28.5 Q16.5,29 16.8,34 L17.6,47.5 a2.5,2.5 0 0 1 -5,0.4 L12,36 L-4,34.5 Z" fill="#b5b5b5"/><path d="M-10.8,28 V14.5 Q-10.8,8 -4,8 H-1 Q5,8 5,14.5 V28 Z" fill="#fff"/><path d="M-9,28.5 L7.5,30 Q12.5,30.5 12.8,35.5 L13.6,49.5 a2.5,2.5 0 0 1 -5,0.4 L8,37.5 L-9,36 Q-11.5,32 -9,28.5 Z" fill="#b5b5b5"/><path d="M9,8 L16.5,10 L13.5,20.5 L6,18.5 Z" fill="#c4c4c4"/><path d="M-3,13 L-5.4,22 Q-6,25.5 -2.5,25 L8.5,22.6 a2.2,2.2 0 0 0 -0.8,-4.4 L0.6,19.4 L1.8,14 Z" fill="#fff"/><path d="M-1,-7.6 Q-9,-8 -8.4,1 Q-8.6,7 -5,9 Q-3,4 -5,-1 Q-3,-4.5 3,-4.5 Z" fill="#9a9a9a"/><circle cx="0" cy="0" r="6.4" fill="#fff"/><path d="M5.6,-3 Q0,-9.5 -5.6,-3.2 Q-7.4,2 -5.4,6 Q-4,2 -4.6,-1.5 Q0,-3.5 5.6,-3Z" fill="#9a9a9a"/></g>
<g stroke="#2b2b2b" stroke-width="1.9" stroke-linejoin="round">
<rect x="911" y="313.5" width="73.5" height="30" rx="6.5" fill="#e0e0e0"/>
<rect x="912" y="353" width="4" height="4.6" rx="1.5" fill="#fff"/><rect x="979.5" y="353" width="4" height="4.6" rx="1.5" fill="#fff"/>
<rect x="909" y="340" width="77.5" height="13.2" rx="2" fill="#e6e6e6"/>
<rect x="915" y="337.6" width="65.5" height="7.4" rx="2" fill="#f4f4f4"/>
<path d="M905.3,333 a5.4,5.4 0 0 1 10.8,0 V353 H908.3 Q905.3,353 905.3,350 Z" fill="#ececec"/>
<path d="M990,333 a5.4,5.4 0 0 0 -10.8,0 V353 H987 Q990,353 990,350 Z" fill="#ececec"/>
<path d="M915.6,324.6 L927.6,322.6 L930.4,337 L918.6,338.6 Z" fill="url(#stip)"/>
</g>
<g transform="translate(949.3,305.7)" stroke="#2b2b2b" stroke-width="1.8" stroke-linejoin="round" stroke-linecap="round"><path d="M-3,31 L-2.2,50.5 a2.6,2.6 0 0 0 5.2,0 L3,38 L9,37.6 V46 h4.4 V34 Q13,30 8,29.6 L-3,29 Z" fill="#b5b5b5"/><path d="M-8.5,30 V14.5 Q-8.5,8 -2,8 H2 Q8,8 8,14.5 V30 Z" fill="#fff"/><path d="M-8,29.6 L4.5,30.6 Q9,31 9,35.6 L8.4,51.5 a2.6,2.6 0 0 1 -5.2,0 L3,38 L-8,37 Q-10,33 -8,29.6Z" fill="#b5b5b5"/><path d="M3.5,13.5 L12.5,11 L14.6,21.5 L5.6,23.6 Z" fill="#bdbdbd"/><path d="M-5,14 L-6.6,21.4 Q-7,24.6 -4,24.4 L5.4,23 a2,2 0 0 0 -0.4,-4 L-1.6,19.6 L-0.6,15Z" fill="#fff"/><circle cx="13" cy="19" r="1.8" fill="#fff"/><circle cx="0" cy="0" r="6.4" fill="#fff"/></g>
<g fill="#141414" stroke="#141414" stroke-width="5.8" stroke-linejoin="round"><rect x="998" y="380.5" width="130.6" height="39.2" rx="19.6"/><circle cx="1034" cy="384" r="20"/><circle cx="1079" cy="376.8" r="27.2"/><circle cx="1107" cy="394" r="17"/></g>
<g fill="#fff"><rect x="998" y="380.5" width="130.6" height="39.2" rx="19.6"/><circle cx="1034" cy="384" r="20"/><circle cx="1079" cy="376.8" r="27.2"/><circle cx="1107" cy="394" r="17"/></g>
<path d="M1088,354.6 A27.2,27.2 0 0 1 1105.3,373.4" fill="none" stroke="#d0d0d0" stroke-width="3.2" stroke-linecap="round"/>
<path d="M1012,415 H1112 Q1124,413 1125.6,402" fill="none" stroke="#dadada" stroke-width="3" stroke-linecap="round"/>
<path d="M978.6,473 H1016.8 V467.4 L1032,477.6 L1016.8,487.8 V482.2 H978.6 Z" fill="#cdcdcd" stroke="#141414" stroke-width="2" stroke-linejoin="miter"/>
<path d="M1091.5,473.1 H1129.8 V467.5 L1145,477.7 L1129.8,487.9 V482.3 H1091.5 Z" fill="#cdcdcd" stroke="#141414" stroke-width="2" stroke-linejoin="miter"/>
<path d="M1225.8,472.9 H1245.6 V467.3 L1260.2,477.5 L1245.6,487.7 V482.1 H1225.8 Z" fill="#cdcdcd" stroke="#141414" stroke-width="2" stroke-linejoin="miter"/>
<g transform="translate(979.6,456.6) rotate(-45.51)"><path d="M40,-4.2 H14.5 V-10 L0,0 L14.5,10 V4.2 H40 Z" fill="#cdcdcd" stroke="#141414" stroke-width="2" stroke-linejoin="miter"/></g>
<g stroke="#141414" stroke-width="2" stroke-linejoin="round">
<rect x="859.8" y="447.5" width="22" height="50.2" fill="#d9d9d9"/>
<path d="M864.5,454.3 H877" stroke-width="1.6"/>
<path d="M864.5,461.7 H877" stroke-width="1.6"/>
<path d="M864.5,469.1 H877" stroke-width="1.6"/>
<path d="M864.5,476.5 H877" stroke-width="1.6"/>
<path d="M864.5,483.9 H877" stroke-width="1.6"/>
<path d="M864.5,491.3 H877" stroke-width="1.6"/>
<rect x="881.5" y="429.6" width="45.8" height="68.1" rx="2" fill="#fff"/>
<rect x="887.5" y="456.2" width="7.6" height="7.6" fill="#c9c9c9" stroke-width="1.6"/>
<rect x="900.2" y="456.2" width="7.6" height="7.6" fill="#c9c9c9" stroke-width="1.6"/>
<rect x="912.9" y="456.2" width="7.6" height="7.6" fill="#c9c9c9" stroke-width="1.6"/>
<rect x="887.5" y="469.1" width="7.6" height="7.6" fill="#c9c9c9" stroke-width="1.6"/>
<rect x="900.2" y="469.1" width="7.6" height="7.6" fill="#c9c9c9" stroke-width="1.6"/>
<rect x="912.9" y="469.1" width="7.6" height="7.6" fill="#c9c9c9" stroke-width="1.6"/>
<rect x="896.4" y="483" width="15.6" height="14.7" fill="#cfcfcf" stroke-width="1.7"/>
<path d="M904.2,483 V497.7" stroke-width="1.5"/>
<path d="M901.3,434.4 h5.2 v5.4 h5.4 v5.2 h-5.4 v5.4 h-5.2 v-5.4 h-5.4 v-5.2 h5.4z" fill="#e0e0e0" stroke-width="1.7"/>
<path d="M855,497.7 H931.4" stroke-width="2.4"/>
</g>
<g stroke="#141414" stroke-width="2.2" stroke-linejoin="round" stroke-linecap="round">
<path d="M947.4,455 V470 L934.6,492 Q932.6,497.7 938.6,497.7 H965.6 Q971.6,497.7 969.6,492 L957.4,470 V455 Z" fill="#fff"/>
<path d="M942.6,479.5 H962 L967,490.6 Q968.4,495 964,495 H940.4 Q936,495 937.6,490.6 Z" fill="#c4c4c4" stroke-width="1.6"/>
<rect x="944" y="452.4" width="17" height="3.6" rx="1.6" fill="#fff"/>
<path d="M954.6,460 V474" stroke-width="1.4" stroke-dasharray="1.5,2.6"/>
<circle cx="949" cy="445.8" r="2.5" fill="#fff" stroke-width="1.7"/><circle cx="955.8" cy="439.7" r="2.5" fill="#fff" stroke-width="1.7"/>
<path d="M949,488.5 h6.5 v-3.5 M953,486.5 l2.5,-1.8 l2.2,2" fill="none" stroke-width="1.4"/>
</g>
<g stroke="#141414" stroke-width="2.1" stroke-linejoin="round" stroke-linecap="round">
<path d="M1046.5,455.6 H1077.8 Q1080,455.6 1080,457.8 V489 L1070.5,499 H1046.5 Q1044.3,499 1044.3,496.8 V457.8 Q1044.3,455.6 1046.5,455.6 Z" fill="#fff"/>
<path d="M1080,489 H1072.5 Q1070.5,489 1070.5,491 V499 Z" fill="#d4d4d4" stroke-width="1.7"/>
<path d="M1054.3,458.6 V454.4 H1059 Q1059,449 1062.2,448.6 Q1065.4,449 1065.4,454.4 H1070.1 V458.6 Z" fill="#cfcfcf" stroke-width="1.8"/>
<circle cx="1054.4" cy="467.2" r="2.7" fill="#bdbdbd" stroke-width="1.5"/>
<path d="M1049.6,476.6 Q1049.6,471.2 1054.4,471.2 Q1059.2,471.2 1059.2,476.6 Z" fill="#bdbdbd" stroke-width="1.5"/>
<path d="M1063.3,465.6 H1075 M1063.3,470.4 H1075 M1063.3,475.2 H1075 M1049.6,481.6 H1075 M1049.6,486.4 H1072 M1049.6,491.2 H1066" fill="none" stroke-width="1.5"/>
</g>
<g stroke="#141414" stroke-width="2.1" stroke-linejoin="round">
<path d="M1156.7,483.6 V448 Q1156.7,444.6 1160,444.6 H1211 Q1214.4,444.6 1214.4,448 V483.6" fill="#fff"/>
<path d="M1156.7,453.3 V448 Q1156.7,444.6 1160,444.6 H1211 Q1214.4,444.6 1214.4,448 V453.3 Z" fill="#d4d4d4"/>
<path d="M1160.6,449 h1.6 m2.4,0 h1.6 m2.4,0 h1.6" stroke-width="1.6" stroke-linecap="round"/>
<rect x="1162.3" y="470.4" width="17.3" height="12.6" fill="url(#stip)" stroke="none"/>
<path d="M1184.2,472 H1208 M1184.2,476.8 H1208 M1184.2,481.8 H1198" stroke-width="1.6"/>
</g>
<text class="r" x="1162" y="466.8" font-size="11.2" textLength="47.4" lengthAdjust="spacingAndGlyphs" fill="#141414">★★★★★</text>
<g stroke="#141414" stroke-width="1.7" stroke-linejoin="round">
<path d="M1270,491.3 V496.8 A11.5,4.2 0 0 0 1293,496.8 V491.3 Z" fill="#c9c9c9"/>
<path d="M1272,496.93 Q1281.5,500.52 1291,496.93" fill="none" stroke="#fff" stroke-width="0.9" stroke-dasharray="1.6,1.6"/>
<ellipse cx="1281.5" cy="491.3" rx="11.5" ry="4.2" fill="#e9e9e9"/>
<path d="M1270,485.8 V491.3 A11.5,4.2 0 0 0 1293,491.3 V485.8 Z" fill="#c9c9c9"/>
<path d="M1272,491.43 Q1281.5,495.02 1291,491.43" fill="none" stroke="#fff" stroke-width="0.9" stroke-dasharray="1.6,1.6"/>
<ellipse cx="1281.5" cy="485.8" rx="11.5" ry="4.2" fill="#e9e9e9"/>
<path d="M1270,480.3 V485.8 A11.5,4.2 0 0 0 1293,485.8 V480.3 Z" fill="#c9c9c9"/>
<path d="M1272,485.93 Q1281.5,489.52 1291,485.93" fill="none" stroke="#fff" stroke-width="0.9" stroke-dasharray="1.6,1.6"/>
<ellipse cx="1281.5" cy="480.3" rx="11.5" ry="4.2" fill="#e9e9e9"/>
<path d="M1270,474.8 V480.3 A11.5,4.2 0 0 0 1293,480.3 V474.8 Z" fill="#c9c9c9"/>
<path d="M1272,480.43 Q1281.5,484.02 1291,480.43" fill="none" stroke="#fff" stroke-width="0.9" stroke-dasharray="1.6,1.6"/>
<ellipse cx="1281.5" cy="474.8" rx="11.5" ry="4.2" fill="#e9e9e9"/>
<path d="M1270,469.3 V474.8 A11.5,4.2 0 0 0 1293,474.8 V469.3 Z" fill="#c9c9c9"/>
<path d="M1272,474.93 Q1281.5,478.52 1291,474.93" fill="none" stroke="#fff" stroke-width="0.9" stroke-dasharray="1.6,1.6"/>
<ellipse cx="1281.5" cy="469.3" rx="11.5" ry="4.2" fill="#e9e9e9"/>
<path d="M1270,463.8 V469.3 A11.5,4.2 0 0 0 1293,469.3 V463.8 Z" fill="#c9c9c9"/>
<path d="M1272,469.43 Q1281.5,473.02 1291,469.43" fill="none" stroke="#fff" stroke-width="0.9" stroke-dasharray="1.6,1.6"/>
<ellipse cx="1281.5" cy="463.8" rx="11.5" ry="4.2" fill="#e9e9e9"/>
</g>
<g stroke="#141414" stroke-width="1.7" stroke-linejoin="round">
<path d="M1296,491.7 V497.2 A11.5,4.2 0 0 0 1319,497.2 V491.7 Z" fill="#c9c9c9"/>
<path d="M1298,497.32 Q1307.5,500.92 1317,497.32" fill="none" stroke="#fff" stroke-width="0.9" stroke-dasharray="1.6,1.6"/>
<ellipse cx="1307.5" cy="491.7" rx="11.5" ry="4.2" fill="#e9e9e9"/>
<path d="M1296,486.2 V491.7 A11.5,4.2 0 0 0 1319,491.7 V486.2 Z" fill="#c9c9c9"/>
<path d="M1298,491.82 Q1307.5,495.42 1317,491.82" fill="none" stroke="#fff" stroke-width="0.9" stroke-dasharray="1.6,1.6"/>
<ellipse cx="1307.5" cy="486.2" rx="11.5" ry="4.2" fill="#e9e9e9"/>
<path d="M1296,480.7 V486.2 A11.5,4.2 0 0 0 1319,486.2 V480.7 Z" fill="#c9c9c9"/>
<path d="M1298,486.32 Q1307.5,489.92 1317,486.32" fill="none" stroke="#fff" stroke-width="0.9" stroke-dasharray="1.6,1.6"/>
<ellipse cx="1307.5" cy="480.7" rx="11.5" ry="4.2" fill="#e9e9e9"/>
<path d="M1296,475.2 V480.7 A11.5,4.2 0 0 0 1319,480.7 V475.2 Z" fill="#c9c9c9"/>
<path d="M1298,480.82 Q1307.5,484.42 1317,480.82" fill="none" stroke="#fff" stroke-width="0.9" stroke-dasharray="1.6,1.6"/>
<ellipse cx="1307.5" cy="475.2" rx="11.5" ry="4.2" fill="#e9e9e9"/>
</g>
<g stroke="#141414" stroke-linejoin="round" stroke-linecap="round">
<rect x="941.6" y="566" width="5.2" height="6" fill="#e6e6e6" stroke-width="1.8"/>
<rect x="937.9" y="562.2" width="12.4" height="4.8" rx="1" fill="#f2f2f2" stroke-width="2"/>
<g transform="translate(923.6,574.6) rotate(-45)"><rect x="-3.4" y="-2.6" width="6.8" height="6.4" rx="1" fill="#f2f2f2" stroke-width="2"/></g>
<g transform="translate(964.8,574.6) rotate(45)"><rect x="-3.4" y="-2.6" width="6.8" height="6.4" rx="1" fill="#f2f2f2" stroke-width="2"/></g>
<circle cx="944.2" cy="600.4" r="28.6" fill="#c6c6c6" stroke-width="2.4"/>
<circle cx="944.2" cy="600.4" r="23.6" fill="#fff" stroke-width="2"/>
<path d="M944.2,600.4 V580 A20.4,20.4 0 0 1 964.6,600.4 Z" fill="#c9c9c9" stroke="none"/>
<path d="M944.2,579.8 L944.2,583.8" stroke-width="1.4"/>
<path d="M954.5,582.56 L953.3,584.64" stroke-width="1.4"/>
<path d="M962.04,590.1 L959.96,591.3" stroke-width="1.4"/>
<path d="M964.8,600.4 L960.8,600.4" stroke-width="1.4"/>
<path d="M962.04,610.7 L959.96,609.5" stroke-width="1.4"/>
<path d="M954.5,618.24 L953.3,616.16" stroke-width="1.4"/>
<path d="M944.2,621 L944.2,617" stroke-width="1.4"/>
<path d="M933.9,618.24 L935.1,616.16" stroke-width="1.4"/>
<path d="M926.36,610.7 L928.44,609.5" stroke-width="1.4"/>
<path d="M923.6,600.4 L927.6,600.4" stroke-width="1.4"/>
<path d="M926.36,590.1 L928.44,591.3" stroke-width="1.4"/>
<path d="M933.9,582.56 L935.1,584.64" stroke-width="1.4"/>
<path d="M944.2,586.4 V600.4 H955.4" fill="none" stroke-width="2.4"/>
<circle cx="944.2" cy="600.4" r="1.8" fill="#141414" stroke="none"/>
</g>
<g stroke="#141414" stroke-width="2.5" stroke-linejoin="round">
<path d="M1027.3,602.8 L1010.9,585.1 L1064.7,566.8 L1078.5,581.5 Z" fill="#fff"/>
<path d="M1135.8,602.8 L1151.3,586 L1098.4,566.8 L1084.7,581.5 Z" fill="#fff"/>
<path d="M1027.3,603.4 L1081.1,583 L1135.8,603.4 L1081.1,625.2 Z" fill="url(#dots)"/>
</g>
<g transform="rotate(0,1083,582.6)" stroke="#141414" stroke-width="1.4" stroke-linejoin="round"><path d="M1075,582.6 V591.1 A8,3.7 0 0 0 1091,591.1 V582.6 Z" fill="#d8d8d8"/><path d="M1075,585.2 A8,3.7 0 0 0 1091,585.2" fill="none" stroke-width="1"/><ellipse cx="1083" cy="582.6" rx="8" ry="3.7" fill="#f4f4f4"/></g>
<g transform="rotate(-6,1066,587.5)" stroke="#141414" stroke-width="1.4" stroke-linejoin="round"><path d="M1058,587.5 V596 A8,3.7 0 0 0 1074,596 V587.5 Z" fill="#d8d8d8"/><path d="M1058,590.1 A8,3.7 0 0 0 1074,590.1" fill="none" stroke-width="1"/><ellipse cx="1066" cy="587.5" rx="8" ry="3.7" fill="#f4f4f4"/></g>
<g transform="rotate(6,1104.5,591.5)" stroke="#141414" stroke-width="1.4" stroke-linejoin="round"><path d="M1096.5,591.5 V600 A8,3.7 0 0 0 1112.5,600 V591.5 Z" fill="#d8d8d8"/><path d="M1096.5,594.1 A8,3.7 0 0 0 1112.5,594.1" fill="none" stroke-width="1"/><ellipse cx="1104.5" cy="591.5" rx="8" ry="3.7" fill="#f4f4f4"/></g>
<g transform="rotate(-8,1049,593.5)" stroke="#141414" stroke-width="1.4" stroke-linejoin="round"><path d="M1041,593.5 V602 A8,3.7 0 0 0 1057,602 V593.5 Z" fill="#d8d8d8"/><path d="M1041,596.1 A8,3.7 0 0 0 1057,596.1" fill="none" stroke-width="1"/><ellipse cx="1049" cy="593.5" rx="8" ry="3.7" fill="#f4f4f4"/></g>
<g transform="rotate(18,1088.5,595.5)" stroke="#141414" stroke-width="1.4" stroke-linejoin="round"><path d="M1080.5,595.5 V604 A8,3.7 0 0 0 1096.5,604 V595.5 Z" fill="#d8d8d8"/><path d="M1080.5,598.1 A8,3.7 0 0 0 1096.5,598.1" fill="none" stroke-width="1"/><ellipse cx="1088.5" cy="595.5" rx="8" ry="3.7" fill="#f4f4f4"/></g>
<g transform="rotate(0,1063,600)" stroke="#141414" stroke-width="1.4" stroke-linejoin="round"><path d="M1055,600 V608.5 A8,3.7 0 0 0 1071,608.5 V600 Z" fill="#d8d8d8"/><path d="M1055,602.6 A8,3.7 0 0 0 1071,602.6" fill="none" stroke-width="1"/><ellipse cx="1063" cy="600" rx="8" ry="3.7" fill="#f4f4f4"/></g>
<g transform="rotate(24,1112,603.5)" stroke="#141414" stroke-width="1.4" stroke-linejoin="round"><path d="M1104,603.5 V612 A8,3.7 0 0 0 1120,612 V603.5 Z" fill="#d8d8d8"/><path d="M1104,606.1 A8,3.7 0 0 0 1120,606.1" fill="none" stroke-width="1"/><ellipse cx="1112" cy="603.5" rx="8" ry="3.7" fill="#f4f4f4"/></g>
<g transform="rotate(-20,1044,604.5)" stroke="#141414" stroke-width="1.4" stroke-linejoin="round"><path d="M1036,604.5 V613 A8,3.7 0 0 0 1052,613 V604.5 Z" fill="#d8d8d8"/><path d="M1036,607.1 A8,3.7 0 0 0 1052,607.1" fill="none" stroke-width="1"/><ellipse cx="1044" cy="604.5" rx="8" ry="3.7" fill="#f4f4f4"/></g>
<g transform="rotate(0,1080,605.5)" stroke="#141414" stroke-width="1.4" stroke-linejoin="round"><path d="M1072,605.5 V614 A8,3.7 0 0 0 1088,614 V605.5 Z" fill="#d8d8d8"/><path d="M1072,608.1 A8,3.7 0 0 0 1088,608.1" fill="none" stroke-width="1"/><ellipse cx="1080" cy="605.5" rx="8" ry="3.7" fill="#f4f4f4"/></g>
<g transform="rotate(28,1098,607.5)" stroke="#141414" stroke-width="1.4" stroke-linejoin="round"><path d="M1090,607.5 V616 A8,3.7 0 0 0 1106,616 V607.5 Z" fill="#d8d8d8"/><path d="M1090,610.1 A8,3.7 0 0 0 1106,610.1" fill="none" stroke-width="1"/><ellipse cx="1098" cy="607.5" rx="8" ry="3.7" fill="#f4f4f4"/></g>
<g transform="rotate(-12,1061.5,612)" stroke="#141414" stroke-width="1.4" stroke-linejoin="round"><path d="M1053.5,612 V620.5 A8,3.7 0 0 0 1069.5,620.5 V612 Z" fill="#d8d8d8"/><path d="M1053.5,614.6 A8,3.7 0 0 0 1069.5,614.6" fill="none" stroke-width="1"/><ellipse cx="1061.5" cy="612" rx="8" ry="3.7" fill="#f4f4f4"/></g>
<g transform="rotate(12,1083,615.5)" stroke="#141414" stroke-width="1.4" stroke-linejoin="round"><path d="M1075,615.5 V624 A8,3.7 0 0 0 1091,624 V615.5 Z" fill="#d8d8d8"/><path d="M1075,618.1 A8,3.7 0 0 0 1091,618.1" fill="none" stroke-width="1"/><ellipse cx="1083" cy="615.5" rx="8" ry="3.7" fill="#f4f4f4"/></g>
<g stroke="#141414" stroke-width="2.5" stroke-linejoin="round">
<path d="M1027.3,604 L1081.1,625.2 L1081.1,687.2 L1027.3,666.2 Z" fill="#fff"/>
<path d="M1135.8,604 L1081.1,625.2 L1081.1,687.2 L1135.8,666.2 Z" fill="url(#dots2)"/>
</g>
<path d="M1028.6,629 L1066,642.5 L1072,651 L1028.6,637.5 Z" fill="url(#dotsl)" opacity="0.8"/>
<g stroke="#141414" stroke-width="2.5" stroke-linejoin="round">
<path d="M1027.3,603.9 L1081.1,625.2 L1064.7,643.4 L1010,623.4 Z" fill="#fff"/>
<path d="M1135.8,603.9 L1081.1,625.2 L1099.3,643.4 L1152.7,622.4 Z" fill="#fff"/>
</g>
<path d="M1212.4,559.2 C1211.5,580 1201,595 1180.6,602.6 L1177.9,610 L1157.3,602.8 L1172.3,585 L1174.6,592 C1190,586 1201.5,577 1202.3,559.2 Z" fill="url(#stip)" stroke="#141414" stroke-width="2" stroke-linejoin="miter"/>
<path d="M1212.4,645.6 L1153.8,645.6" stroke="#141414" stroke-width="2.2" fill="none"/>
<path d="M1144,645.6 L1155,640 L1151.8,645.6 L1155,651.2 Z" fill="#141414"/>
<path d="M559.6,572 V399.6 Q559.6,371.6 587.6,371.6 H746 V334.9 L838,430.3 L746,526 V489.4 H626 Q608,489.4 608,507.4 V572" fill="#fff" stroke="#141414" stroke-width="3" stroke-linejoin="miter"/>
<rect x="478.8" y="597.3" width="30" height="27" fill="#fff" stroke="#141414" stroke-width="2.8"/>
<rect x="502.8" y="569" width="375" height="127.5" rx="11" fill="#fff" stroke="#141414" stroke-width="3"/>
<text class="b" x="29.89" y="56.3" font-size="57.68" textLength="33.36" lengthAdjust="spacingAndGlyphs" fill="#111" stroke="#111" stroke-width="1.15">A</text>
<text class="b" x="76.91" y="56.3" font-size="57.68" textLength="381.82" lengthAdjust="spacingAndGlyphs" fill="#111" stroke="#111" stroke-width="1.15">DECENTRALIZED</text>
<text class="b" x="470.18" y="56.3" font-size="57.68" textLength="297.34" lengthAdjust="spacingAndGlyphs" fill="#111" stroke="#111" stroke-width="1.15">FRAMEWORK</text>
<text class="b" x="785.3" y="56.3" font-size="57.68" textLength="86.88" lengthAdjust="spacingAndGlyphs" fill="#111" stroke="#111" stroke-width="1.15">FOR</text>
<text class="b" x="889.55" y="56.3" font-size="57.68" textLength="127.12" lengthAdjust="spacingAndGlyphs" fill="#111" stroke="#111" stroke-width="1.15">DRUG</text>
<text class="b" x="1031.22" y="56.3" font-size="57.68" textLength="311.47" lengthAdjust="spacingAndGlyphs" fill="#111" stroke="#111" stroke-width="1.15">ASSESSMENT</text>
<text class="r" x="31.11" y="88.3" font-size="24.16" textLength="220.84" lengthAdjust="spacingAndGlyphs" fill="#111" stroke="#111" stroke-width="0.63">Increasing trial capacity</text>
<text class="r" x="259.26" y="88.3" font-size="24.16" textLength="168.94" lengthAdjust="spacingAndGlyphs" fill="#111" stroke="#111" stroke-width="0.63">22.8× by giving all</text>
<text class="r" x="434.73" y="88.3" font-size="24.16" textLength="182.3" lengthAdjust="spacingAndGlyphs" fill="#111" stroke="#111" stroke-width="0.63">patients the right to</text>
<text class="r" x="623.34" y="88.3" font-size="24.16" textLength="234.14" lengthAdjust="spacingAndGlyphs" fill="#111" stroke="#111" stroke-width="0.63">effortlessly participate in</text>
<text class="r" x="863.27" y="88.3" font-size="24.16" textLength="186.86" lengthAdjust="spacingAndGlyphs" fill="#111" stroke="#111" stroke-width="0.63">global decentralized</text>
<text class="r" x="1057.25" y="88.3" font-size="24.16" textLength="140.79" lengthAdjust="spacingAndGlyphs" fill="#111" stroke="#111" stroke-width="0.63">clinical trials at</text>
<text class="r" x="1206.27" y="88.3" font-size="24.16" textLength="136.63" lengthAdjust="spacingAndGlyphs" fill="#111" stroke="#111" stroke-width="0.63">80× lower cost</text>
<text class="b" x="124.5" y="131.2" font-size="24.16" textLength="447.44" lengthAdjust="spacingAndGlyphs" fill="#111" stroke="#111" stroke-width="1.11">CURRENT SYSTEM: BOTTLENECK &amp; EXCLUSION</text>
<text class="b" x="720.15" y="131.2" font-size="24.16" textLength="295.2" lengthAdjust="spacingAndGlyphs" fill="#111" stroke="#111" stroke-width="1.11">DECENTRALIZED FRAMEWORK:</text>
<text class="b" x="1021.71" y="131.2" font-size="24.16" textLength="309.08" lengthAdjust="spacingAndGlyphs" fill="#111" stroke="#111" stroke-width="1.11">UNLIMITED CAPACITY &amp; ACCESS</text>
<text class="b" x="488.19" y="247.7" font-size="16.76" textLength="74.85" lengthAdjust="spacingAndGlyphs" fill="#111" stroke="#111" stroke-width="0.77">EXCLUSION</text>
<text class="b" x="495.27" y="264.5" font-size="16.76" textLength="60.63" lengthAdjust="spacingAndGlyphs" fill="#111" stroke="#111" stroke-width="0.77">CRITERIA</text>
<text class="r" x="482.86" y="279.7" font-size="14.94" textLength="86.51" lengthAdjust="spacingAndGlyphs" fill="#111" stroke="#111" stroke-width="0.39">(Rejects 86.1%)</text>
<text class="b" x="383.55" y="402.4" font-size="16.76" textLength="140.55" lengthAdjust="spacingAndGlyphs" fill="#111" stroke="#111" stroke-width="0.77">TRADITIONAL TRIALS</text>
<text class="r" x="375.32" y="417.6" font-size="14.94" textLength="155.91" lengthAdjust="spacingAndGlyphs" fill="#111" stroke="#111" stroke-width="0.39">(5 Million Participants/Year)</text>
<text class="b" x="74.16" y="483.6" font-size="16.76" textLength="111.71" lengthAdjust="spacingAndGlyphs" fill="#111" stroke="#111" stroke-width="0.77">MAJOR MEDICAL</text>
<text class="b" x="100.08" y="499.7" font-size="16.76" textLength="60.62" lengthAdjust="spacingAndGlyphs" fill="#111" stroke="#111" stroke-width="0.77">CENTERS</text>
<text class="r" x="83.26" y="515.3" font-size="14.94" textLength="94.81" lengthAdjust="spacingAndGlyphs" fill="#111" stroke="#111" stroke-width="0.39">(Travel Required)</text>
<text class="b" x="84.29" y="649.5" font-size="16.76" textLength="104.27" lengthAdjust="spacingAndGlyphs" fill="#111" stroke="#111" stroke-width="0.77">SLOW TIMELINE</text>
<text class="r" x="93.64" y="665.3" font-size="14.94" textLength="85.3" lengthAdjust="spacingAndGlyphs" fill="#111" stroke="#111" stroke-width="0.39">(Avg 9.1 Years)</text>
<text class="b" x="390.25" y="520.7" font-size="16.76" textLength="77.58" lengthAdjust="spacingAndGlyphs" fill="#111" stroke="#111" stroke-width="0.77">HIGH COST:</text>
<text class="b" x="376.12" y="537" font-size="14.8" textLength="106.17" lengthAdjust="spacingAndGlyphs" fill="#111" stroke="#111" stroke-width="0.68">$41K PER PATIENT</text>
<text class="b" x="377.79" y="664" font-size="16.76" textLength="103" lengthAdjust="spacingAndGlyphs" fill="#111" stroke="#111" stroke-width="0.77">FEW APPROVED</text>
<text class="b" x="385.15" y="681.6" font-size="16.76" textLength="88.87" lengthAdjust="spacingAndGlyphs" fill="#111" stroke="#111" stroke-width="0.77">TREATMENTS</text>
<text class="r" x="95.2" y="711.2" font-size="17.6" textLength="395.8" lengthAdjust="spacingAndGlyphs" fill="#111" stroke="#111" stroke-width="0.46">Out of <tspan class="b">2.4 billion</tspan> with chronic disease, only <tspan class="b">0.2%</tspan> participate.</text>
<text class="b" x="615.66" y="401.9" font-size="24.02" textLength="147.02" lengthAdjust="spacingAndGlyphs" fill="#111" stroke="#111" stroke-width="1.11">THE SOLUTION:</text>
<text class="b" x="612.68" y="426.7" font-size="24.02" textLength="150.88" lengthAdjust="spacingAndGlyphs" fill="#111" stroke="#111" stroke-width="1.11">SHIFTING FROM</text>
<text class="b" x="617.85" y="451.9" font-size="24.02" textLength="139.39" lengthAdjust="spacingAndGlyphs" fill="#111" stroke="#111" stroke-width="1.11">EXCLUSION TO</text>
<text class="b" x="611.24" y="477" font-size="24.02" textLength="152.52" lengthAdjust="spacingAndGlyphs" fill="#111" stroke="#111" stroke-width="1.11">EMPOWERMENT</text>
<text class="b" x="513.54" y="597.9" font-size="19.27" textLength="353.34" lengthAdjust="spacingAndGlyphs" fill="#111" stroke="#111" stroke-width="0.89">WE’RE NOT FACING A RECRUITMENT PROBLEM.</text>
<text class="b" x="547.64" y="618.3" font-size="19.27" textLength="285.49" lengthAdjust="spacingAndGlyphs" fill="#111" stroke="#111" stroke-width="0.89">WE’RE FACING A CAPACITY PROBLEM.</text>
<text class="r" x="526.83" y="644.7" font-size="17.32" textLength="327.26" lengthAdjust="spacingAndGlyphs" fill="#111" stroke="#111" stroke-width="0.45">The Decentralized dFDA connects companies with</text>
<text class="r" x="529.48" y="663.6" font-size="17.32" textLength="320.56" lengthAdjust="spacingAndGlyphs" fill="#111" stroke="#111" stroke-width="0.45">treatments to patients who need them, creating a</text>
<text class="r" x="534.08" y="681.5" font-size="17.32" textLength="311.98" lengthAdjust="spacingAndGlyphs" fill="#111" stroke="#111" stroke-width="0.45">two-sided marketplace for Real-World Evidence.</text>
<text class="b" x="720.61" y="197.4" font-size="16.76" textLength="74.57" lengthAdjust="spacingAndGlyphs" fill="#111" stroke="#111" stroke-width="0.77">UNIVERSAL</text>
<text class="b" x="730.36" y="214.7" font-size="16.76" textLength="54.78" lengthAdjust="spacingAndGlyphs" fill="#111" stroke="#111" stroke-width="0.77">PATIENT</text>
<text class="b" x="732.21" y="231.5" font-size="16.76" textLength="51.97" lengthAdjust="spacingAndGlyphs" fill="#111" stroke="#111" stroke-width="0.77">ACCESS</text>
<text class="r" x="712.35" y="247.6" font-size="14.94" textLength="92.19" lengthAdjust="spacingAndGlyphs" fill="#111" stroke="#111" stroke-width="0.39">(100% Inclusion)</text>
<text class="b" x="1019.65" y="307.2" font-size="16.76" textLength="86.33" lengthAdjust="spacingAndGlyphs" fill="#111" stroke="#111" stroke-width="0.77">PARTICIPATE</text>
<text class="b" x="1021.96" y="324" font-size="16.76" textLength="82.1" lengthAdjust="spacingAndGlyphs" fill="#111" stroke="#111" stroke-width="0.77">FROM HOME</text>
<text class="r" x="1031.5" y="339.8" font-size="14.94" textLength="63.47" lengthAdjust="spacingAndGlyphs" fill="#111" stroke="#111" stroke-width="0.39">(Effortless)</text>
<text class="b" x="1008.89" y="397.9" font-size="16.76" textLength="108.3" lengthAdjust="spacingAndGlyphs" fill="#111" stroke="#111" stroke-width="0.77">DECENTRALIZED</text>
<text class="b" x="1026.35" y="414.5" font-size="16.76" textLength="73.07" lengthAdjust="spacingAndGlyphs" fill="#111" stroke="#111" stroke-width="0.77">PLATFORM</text>
<text class="r" x="1022.83" y="438" font-size="14.94" textLength="80.14" lengthAdjust="spacingAndGlyphs" fill="#111" stroke="#111" stroke-width="0.39">(Public Portal)</text>
<text class="b" x="891.95" y="518.7" font-size="16.76" textLength="79.51" lengthAdjust="spacingAndGlyphs" fill="#111" stroke="#111" stroke-width="0.77">TREATMENT</text>
<text class="r" x="872.83" y="534" font-size="14.94" textLength="117.75" lengthAdjust="spacingAndGlyphs" fill="#111" stroke="#111" stroke-width="0.39">(Instant Registration)</text>
<text class="b" x="1014.65" y="518.7" font-size="16.76" textLength="94.22" lengthAdjust="spacingAndGlyphs" fill="#111" stroke="#111" stroke-width="0.77">PATIENT DATA</text>
<text class="r" x="1001.67" y="534" font-size="14.94" textLength="120.55" lengthAdjust="spacingAndGlyphs" fill="#111" stroke="#111" stroke-width="0.39">(Real-World Evidence)</text>
<text class="b" x="1146.7" y="502.3" font-size="16.76" textLength="77.57" lengthAdjust="spacingAndGlyphs" fill="#111" stroke="#111" stroke-width="0.77">ANALYSIS &amp;</text>
<text class="b" x="1150.47" y="519" font-size="16.76" textLength="69.58" lengthAdjust="spacingAndGlyphs" fill="#111" stroke="#111" stroke-width="0.77">RANKINGS</text>
<text class="r" x="1131.96" y="534.6" font-size="14.94" textLength="106.69" lengthAdjust="spacingAndGlyphs" fill="#111" stroke="#111" stroke-width="0.39">(Consumer Reports</text>
<text class="r" x="1158.07" y="550.2" font-size="14.94" textLength="55.55" lengthAdjust="spacingAndGlyphs" fill="#111" stroke="#111" stroke-width="0.39">for Drugs)</text>
<text class="b" x="1257.13" y="517.9" font-size="15.92" textLength="74.81" lengthAdjust="spacingAndGlyphs" fill="#111" stroke="#111" stroke-width="0.73">LOW COST:</text>
<text class="b" x="1276.83" y="532.7" font-size="13.69" textLength="35.74" lengthAdjust="spacingAndGlyphs" fill="#111" stroke="#111" stroke-width="0.63">~$S80</text>
<text class="b" x="1256.72" y="548.1" font-size="14.25" textLength="75.01" lengthAdjust="spacingAndGlyphs" fill="#111" stroke="#111" stroke-width="0.66">PER PATIENT</text>
<text class="r" x="1261.35" y="564" font-size="14.8" textLength="66.24" lengthAdjust="spacingAndGlyphs" fill="#111" stroke="#111" stroke-width="0.38">(80× Lower)</text>
<text class="b" x="896.95" y="651" font-size="16.76" textLength="99.79" lengthAdjust="spacingAndGlyphs" fill="#111" stroke="#111" stroke-width="0.77">FAST TIMELINE</text>
<text class="r" x="916.76" y="665.4" font-size="14.94" textLength="60.2" lengthAdjust="spacingAndGlyphs" fill="#111" stroke="#111" stroke-width="0.39">(2-3 Years)</text>
<text class="b" x="1218.04" y="651" font-size="16.76" textLength="83.63" lengthAdjust="spacingAndGlyphs" fill="#111" stroke="#111" stroke-width="0.77">MANY MORE</text>
<text class="b" x="1185.76" y="667.4" font-size="16.76" textLength="149.34" lengthAdjust="spacingAndGlyphs" fill="#111" stroke="#111" stroke-width="0.77">TREATMENTS &amp; CURES</text>
<text class="r" x="1197.88" y="682.8" font-size="14.94" textLength="123.74" lengthAdjust="spacingAndGlyphs" fill="#111" stroke="#111" stroke-width="0.39">(Data Saves Everyone)</text>
<text class="r" x="941.2" y="711.1" font-size="17.32" textLength="297" lengthAdjust="spacingAndGlyphs" fill="#111" stroke="#111" stroke-width="0.45"><tspan class="b">240 times more</tspan> willing participants available.</text>
<text class="b" x="252.21" y="758" font-size="34.22" textLength="135.12" lengthAdjust="spacingAndGlyphs" fill="#111" stroke="#111" stroke-width="1.57">PATIENTS</text>
<text class="b" x="396.8" y="758" font-size="34.22" textLength="15.8" lengthAdjust="spacingAndGlyphs" fill="#111" stroke="#111" stroke-width="1.57">+</text>
<text class="b" x="421.07" y="758" font-size="34.22" textLength="72.06" lengthAdjust="spacingAndGlyphs" fill="#111" stroke="#111" stroke-width="1.57">DATA</text>
<text class="b" x="503.81" y="758" font-size="34.22" textLength="15.68" lengthAdjust="spacingAndGlyphs" fill="#111" stroke="#111" stroke-width="1.57">=</text>
<text class="b" x="528.93" y="758" font-size="34.22" textLength="99.89" lengthAdjust="spacingAndGlyphs" fill="#111" stroke="#111" stroke-width="1.57">CURES.</text>
<text class="b" x="638.09" y="758" font-size="34.22" textLength="58.22" lengthAdjust="spacingAndGlyphs" fill="#111" stroke="#111" stroke-width="1.57">JOIN</text>
<text class="b" x="705.6" y="758" font-size="34.22" textLength="56.64" lengthAdjust="spacingAndGlyphs" fill="#111" stroke="#111" stroke-width="1.57">THE</text>
<text class="b" x="771.8" y="758" font-size="34.22" textLength="157.22" lengthAdjust="spacingAndGlyphs" fill="#111" stroke="#111" stroke-width="1.57">EVOLUTION</text>
<text class="b" x="937.99" y="758" font-size="34.22" textLength="31.06" lengthAdjust="spacingAndGlyphs" fill="#111" stroke="#111" stroke-width="1.57">OF</text>
<text class="b" x="979.73" y="758" font-size="34.22" textLength="144.35" lengthAdjust="spacingAndGlyphs" fill="#111" stroke="#111" stroke-width="1.57">MEDICINE.</text>
<text class="m" x="1216.3" y="762.3" font-size="14.4" textLength="153.6" stroke="#111" stroke-width="0.3" lengthAdjust="spacingAndGlyphs" fill="#111">WarOnDisease.org</text>
</svg>
</body></html>
